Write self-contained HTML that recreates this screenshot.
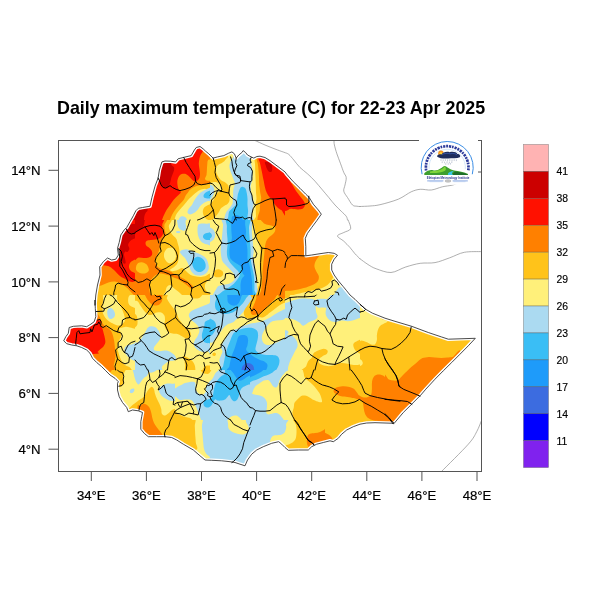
<!DOCTYPE html>
<html><head><meta charset="utf-8"><title>Daily maximum temperature</title>
<style>
html,body{margin:0;padding:0;background:#fff;}
body{width:600px;height:600px;overflow:hidden;font-family:"Liberation Sans",sans-serif;}
svg{display:block;will-change:transform}
text{font-family:"Liberation Sans",sans-serif;fill:#000}
.tl{font-size:13.2px;stroke:#000;stroke-width:0.2px}
.cb{font-size:10.4px;stroke:#000;stroke-width:0.15px}
</style></head><body>
<svg width="600" height="600" viewBox="0 0 600 600">
<rect x="0" y="0" width="600" height="600" fill="#fff"/>

<defs>
<clipPath id="frame"><rect x="58.5" y="140.5" width="423" height="331"/></clipPath>
<clipPath id="country"><path d="M95.0,305.0 L95.8,295.0 L97.5,285.0 L100.0,275.0 L99.7,266.7 L103.3,261.7 L107.5,258.0 L111.7,260.0 L115.8,259.2 L118.3,255.0 L117.5,248.3 L119.2,242.5 L120.8,235.0 L124.2,230.0 L126.7,227.5 L130.0,221.7 L133.3,215.8 L135.8,210.8 L138.3,208.3 L142.5,207.5 L150.0,206.2 L151.9,197.5 L155.0,186.2 L158.1,178.1 L159.4,170.0 L161.9,161.9 L165.0,161.0 L170.6,161.2 L175.6,161.9 L178.1,158.8 L184.4,157.2 L191.2,155.6 L194.4,150.0 L196.2,147.5 L200.0,146.5 L203.1,148.8 L205.6,151.2 L208.8,153.8 L210.0,155.0 L213.1,158.1 L217.5,156.9 L223.8,155.6 L228.8,153.1 L231.9,151.9 L234.4,153.8 L236.2,158.1 L238.8,155.0 L241.9,152.5 L243.1,150.6 L245.6,152.5 L247.5,155.0 L251.2,156.9 L253.8,158.1 L256.9,156.5 L260.0,156.2 L265.0,157.5 L270.0,160.6 L275.0,164.4 L280.0,168.1 L285.0,171.9 L286.7,174.2 L293.3,181.7 L300.0,188.3 L305.8,194.2 L309.2,197.5 L313.3,204.2 L318.3,210.0 L321.3,214.2 L316.7,220.8 L311.7,227.5 L307.5,233.3 L305.3,238.3 L305.8,246.7 L305.8,255.8 L311.7,255.0 L320.0,253.7 L328.3,252.5 L334.2,253.3 L337.5,255.3 L334.2,259.2 L331.7,264.2 L331.7,270.0 L334.2,275.0 L338.3,280.8 L343.3,286.7 L346.7,290.8 L350.0,295.0 L355.0,299.3 L360.0,304.3 L365.7,309.3 L372.5,313.2 L385.0,318.2 L395.0,321.3 L411.7,326.3 L428.3,332.5 L441.7,337.0 L448.3,339.2 L460.0,338.8 L475.3,338.3 L468.3,345.8 L460.0,354.2 L451.7,362.5 L443.3,370.8 L435.0,379.2 L425.8,389.2 L420.8,395.0 L411.7,404.2 L403.3,412.5 L394.2,423.3 L385.0,423.0 L375.0,422.7 L366.7,423.0 L360.0,424.2 L353.3,426.7 L346.7,430.0 L341.7,434.2 L338.3,438.3 L333.3,441.7 L330.0,440.8 L323.3,442.5 L316.7,444.2 L311.7,446.7 L308.3,450.0 L298.3,450.0 L288.3,450.3 L285.0,447.5 L281.7,444.2 L278.7,441.7 L271.7,443.3 L263.3,446.7 L256.7,450.0 L251.7,454.2 L247.5,460.0 L245.0,465.8 L240.0,464.2 L235.0,462.5 L230.0,461.7 L221.7,460.8 L211.7,460.3 L205.0,460.0 L200.0,455.8 L193.3,450.0 L183.3,444.2 L176.7,440.0 L171.7,437.5 L165.0,436.7 L156.7,436.7 L148.3,436.7 L144.2,433.3 L140.8,429.2 L140.8,421.7 L141.7,416.7 L142.5,412.5 L138.3,410.8 L132.5,410.0 L128.3,411.7 L126.7,407.5 L122.5,402.5 L119.2,396.7 L117.5,390.0 L117.5,383.3 L118.3,381.7 L115.0,378.3 L110.0,375.0 L105.8,370.8 L101.7,366.7 L96.7,362.5 L92.5,358.3 L90.0,353.3 L86.7,350.0 L81.7,347.5 L76.7,345.8 L71.7,345.0 L66.7,343.7 L63.7,340.8 L65.8,336.7 L68.3,333.3 L69.2,327.5 L73.3,326.3 L81.7,325.8 L86.7,326.7 L90.8,324.2 L94.2,321.7 L95.8,316.7 L95.3,308.3 L95.0,300.0 Z"/></clipPath>
<clipPath id="c135_145"><rect x="135" y="145" width="75" height="75"/></clipPath>
<clipPath id="c210_145"><rect x="210" y="145" width="75" height="75"/></clipPath>
<clipPath id="c285_145"><rect x="285" y="145" width="75" height="75"/></clipPath>
<clipPath id="c285_220"><rect x="285" y="220" width="75" height="75"/></clipPath>
<clipPath id="c60_220"><rect x="60" y="220" width="75" height="75"/></clipPath>
<clipPath id="c135_220"><rect x="135" y="220" width="75" height="75"/></clipPath>
<clipPath id="c210_220"><rect x="210" y="220" width="75" height="75"/></clipPath>
<clipPath id="c60_295"><rect x="60" y="295" width="75" height="75"/></clipPath>
<clipPath id="c135_295"><rect x="135" y="295" width="75" height="75"/></clipPath>
<clipPath id="c210_295"><rect x="210" y="295" width="75" height="75"/></clipPath>
<clipPath id="c285_295"><rect x="285" y="295" width="75" height="75"/></clipPath>
<clipPath id="c360_295"><rect x="360" y="295" width="75" height="75"/></clipPath>
<clipPath id="c420_310"><rect x="420" y="310" width="75" height="75"/></clipPath>
<clipPath id="c100_370"><rect x="100" y="370" width="75" height="75"/></clipPath>
<clipPath id="c175_370"><rect x="175" y="370" width="75" height="75"/></clipPath>
<clipPath id="c60_145"><rect x="60" y="145" width="75" height="75"/></clipPath>
<clipPath id="c250_370"><rect x="250" y="370" width="75" height="75"/></clipPath>
<clipPath id="c325_370"><rect x="325" y="370" width="75" height="75"/></clipPath>
<clipPath id="c385_350"><rect x="385" y="350" width="75" height="75"/></clipPath>
<clipPath id="c175_420"><rect x="175" y="420" width="75" height="75"/></clipPath>
<clipPath id="c250_420"><rect x="250" y="420" width="75" height="75"/></clipPath>
</defs>
<g clip-path="url(#country)">
<rect x="58" y="140" width="424" height="332" fill="#FFF07A"/>
<g clip-path="url(#c135_145)">
<path d="M174.0,222.5 C181.0,222.1 174.2,221.2 174.5,220.0 C174.8,218.8 175.2,216.7 176.0,215.0 C176.8,213.3 178.2,211.7 179.5,210.0 C180.8,208.3 182.6,206.7 184.0,205.0 C185.4,203.3 186.7,201.5 188.0,200.0 C189.3,198.5 190.5,197.5 191.9,196.2 C193.2,195.0 194.9,193.5 196.2,192.5 C197.6,191.5 198.5,190.6 200.0,190.0 C201.5,189.4 202.9,189.1 205.0,188.8 C207.1,188.4 211.2,195.6 212.5,187.9 C213.8,180.2 225.8,150.1 212.5,142.5 C199.2,134.9 145.8,129.2 132.5,142.5 C119.2,155.8 125.6,209.2 132.5,222.5 C139.4,235.8 167.0,222.9 174.0,222.5 Z" fill="#FFC31A"/>
<path d="M169.5,222.5 C175.8,222.1 169.6,221.2 170.0,220.0 C170.4,218.8 171.2,216.7 172.0,215.0 C172.8,213.3 173.8,211.7 175.0,210.0 C176.2,208.3 177.6,206.7 179.0,205.0 C180.4,203.3 182.3,201.7 183.5,200.0 C184.7,198.3 185.2,196.3 186.0,195.0 C186.8,193.7 187.5,193.1 188.1,192.2 C188.8,191.4 188.9,190.8 189.8,190.0 C190.6,189.2 191.8,188.2 193.1,187.5 C194.4,186.8 195.9,186.2 197.5,185.8 C199.1,185.3 200.9,185.3 202.5,185.0 C204.1,184.7 205.2,184.2 206.9,184.0 C208.5,183.8 211.6,184.0 212.5,183.5 C213.4,183.0 213.4,181.5 212.5,181.0 C211.6,180.5 208.1,181.0 206.9,180.6 C205.6,180.2 205.1,179.7 205.0,178.8 C204.9,177.8 206.2,176.5 206.5,175.0 C206.8,173.5 206.8,171.7 206.9,170.0 C207.0,168.3 207.0,166.7 207.2,165.0 C207.5,163.3 207.2,161.2 208.1,160.0 C209.0,158.8 211.8,160.4 212.5,157.5 C213.2,154.6 225.8,145.0 212.5,142.5 C199.2,140.0 145.8,129.2 132.5,142.5 C119.2,155.8 126.3,209.2 132.5,222.5 C138.7,235.8 163.2,222.9 169.5,222.5 Z" fill="#FF8000"/>
<path d="M161.5,222.5 C166.4,222.1 161.6,221.2 162.0,220.0 C162.4,218.8 163.2,216.7 164.0,215.0 C164.8,213.3 165.5,211.7 166.5,210.0 C167.5,208.3 168.8,206.7 170.0,205.0 C171.2,203.3 172.1,201.7 173.5,200.0 C174.9,198.3 177.3,196.2 178.5,195.0 C179.7,193.8 180.1,193.6 180.5,193.0 C180.9,192.4 180.9,191.9 180.6,191.2 C180.3,190.6 179.3,190.4 178.8,189.4 C178.2,188.3 177.7,186.6 177.5,185.0 C177.3,183.4 177.2,181.5 177.5,180.0 C177.8,178.5 178.3,177.2 179.0,176.2 C179.7,175.2 180.9,174.4 181.9,174.0 C182.9,173.6 184.0,173.5 185.0,173.8 C186.0,174.0 187.2,174.9 188.1,175.6 C189.1,176.4 189.8,177.3 190.6,178.1 C191.5,179.0 192.4,180.1 193.1,180.6 C193.9,181.2 194.3,181.5 195.0,181.5 C195.7,181.5 196.8,181.2 197.5,180.6 C198.2,180.1 199.0,179.3 199.4,178.1 C199.8,177.0 200.0,175.3 200.0,173.8 C200.0,172.2 199.6,170.4 199.4,168.8 C199.2,167.1 198.8,165.4 198.8,163.8 C198.8,162.1 199.1,160.2 199.4,158.8 C199.7,157.3 200.1,156.1 200.6,155.0 C201.1,153.9 201.9,152.9 202.5,151.9 C203.1,150.8 204.1,150.3 204.4,148.8 C204.7,147.2 216.4,143.5 204.4,142.5 C192.4,141.5 144.5,129.2 132.5,142.5 C120.5,155.8 127.7,209.2 132.5,222.5 C137.3,235.8 156.6,222.9 161.5,222.5 Z" fill="#FF1100"/>
<path d="M156.2,181.2 C156.2,177.7 157.6,163.5 160.0,160.0 C162.4,156.5 168.7,159.2 170.6,160.0 C172.5,160.8 170.9,163.8 171.5,165.0 C172.1,166.2 173.6,166.3 174.0,167.2 C174.4,168.2 174.2,169.4 174.0,170.6 C173.8,171.8 173.0,173.1 172.5,174.4 C172.0,175.6 171.6,176.8 171.2,178.1 C170.9,179.5 170.7,181.1 170.2,182.5 C169.8,183.9 169.3,185.3 168.5,186.2 C167.7,187.2 166.5,188.0 165.6,188.1 C164.7,188.3 163.8,187.9 163.1,187.2 C162.4,186.6 162.0,185.3 161.5,184.4 C161.0,183.4 161.2,182.0 160.4,181.5 C159.5,181.0 156.3,184.8 156.2,181.2 Z" fill="#CC0000"/>
<path d="M132.5,213.1 C133.8,211.0 137.6,210.8 140.0,210.0 C142.4,209.2 145.6,208.0 146.9,208.1 C148.1,208.2 147.7,209.8 147.5,210.6 C147.3,211.5 146.1,212.2 145.6,213.1 C145.1,214.1 144.9,214.7 144.4,216.2 C143.9,217.8 144.5,221.5 142.5,222.5 C140.5,223.5 134.2,224.1 132.5,222.5 C130.8,220.9 131.2,215.2 132.5,213.1 Z" fill="#CC0000"/>
<path d="M212.5,188.1 C211.2,186.5 207.1,189.2 205.0,190.0 C202.9,190.8 201.5,191.9 200.0,193.1 C198.5,194.4 197.3,196.1 196.2,197.5 C195.2,198.9 194.5,200.0 193.8,201.2 C193.0,202.5 192.7,203.8 191.9,205.0 C191.0,206.2 189.5,207.5 188.8,208.8 C188.0,210.0 187.3,211.6 187.5,212.5 C187.7,213.4 189.0,214.3 190.0,214.4 C191.0,214.5 192.5,213.9 193.8,213.1 C195.0,212.4 196.5,211.1 197.5,210.0 C198.5,208.9 199.0,207.4 200.0,206.2 C201.0,205.1 202.5,204.0 203.8,203.1 C205.0,202.3 206.0,201.8 207.5,201.2 C209.0,200.7 211.7,202.2 212.5,200.0 C213.3,197.8 213.8,189.8 212.5,188.1 Z" fill="#ABDAF1"/>
<path d="M212.5,190.6 C211.7,189.6 208.9,191.0 207.5,191.5 C206.1,192.0 205.0,193.0 204.4,193.8 C203.7,194.5 203.4,195.5 203.5,196.2 C203.6,197.0 204.2,197.8 205.0,198.1 C205.8,198.5 206.9,198.6 208.1,198.5 C209.4,198.4 211.8,198.8 212.5,197.5 C213.2,196.2 213.3,191.6 212.5,190.6 Z" fill="#3ABEF5"/>
<path d="M212.5,203.5 C212.0,200.8 210.5,204.1 209.5,204.5 C208.5,204.9 207.6,205.2 206.8,205.8 C205.9,206.2 204.9,206.7 204.2,207.5 C203.6,208.3 203.0,209.6 202.9,210.8 C202.7,211.9 202.9,213.1 203.2,214.2 C203.6,215.4 204.3,216.6 205.0,217.5 C205.7,218.4 206.2,219.1 207.5,219.6 C208.8,220.2 211.7,223.4 212.5,220.8 C213.3,218.1 213.0,206.2 212.5,203.5 Z" fill="#FFC31A"/>
<path d="M178.8,222.5 C177.3,221.9 178.6,219.8 179.0,218.8 C179.4,217.8 180.2,216.8 181.2,216.5 C182.2,216.2 184.1,216.4 185.0,216.9 C185.9,217.4 186.5,218.4 186.9,219.4 C187.3,220.3 188.9,222.0 187.5,222.5 C186.1,223.0 180.2,223.1 178.8,222.5 Z" fill="#ABDAF1"/>
</g>
<g clip-path="url(#c210_145)">
<path d="M207.5,155.0 C210.7,150.7 223.9,154.9 226.9,155.6 C229.9,156.4 226.4,158.2 225.6,159.4 C224.9,160.5 223.8,161.6 222.5,162.5 C221.2,163.4 219.2,164.1 218.1,165.0 C217.0,165.9 216.3,166.8 216.0,168.1 C215.7,169.5 216.0,171.6 216.5,173.1 C217.0,174.7 217.9,176.2 218.8,177.5 C219.6,178.8 220.5,179.8 221.5,180.6 C222.5,181.4 224.0,181.6 225.0,182.2 C226.0,182.9 227.1,183.7 227.8,184.8 C228.4,185.8 228.7,187.4 229.0,188.8 C229.3,190.1 229.3,191.5 229.4,193.1 C229.5,194.7 229.6,197.0 229.6,198.4 C229.6,199.8 229.6,200.7 229.2,201.6 C228.9,202.6 228.3,203.4 227.5,204.1 C226.7,204.8 225.4,205.2 224.2,205.9 C223.1,206.6 221.6,207.4 220.8,208.4 C219.9,209.3 219.9,210.5 219.2,211.6 C218.6,212.7 217.7,213.9 216.8,215.0 C215.8,216.1 214.8,217.5 213.8,218.4 C212.8,219.2 211.8,219.5 210.8,220.0 C209.7,220.5 208.0,223.9 207.5,221.5 C207.0,219.1 207.1,208.5 207.5,205.6 C207.9,202.7 209.2,204.8 210.0,204.1 C210.8,203.5 211.8,202.6 212.5,201.6 C213.2,200.7 213.7,199.5 214.2,198.4 C214.8,197.3 215.2,195.9 215.8,195.0 C216.3,194.1 216.8,193.7 217.5,193.1 C218.2,192.5 219.0,192.2 219.8,191.5 C220.5,190.8 221.7,189.8 221.9,188.8 C222.0,187.7 221.4,186.0 220.6,185.0 C219.9,184.0 218.6,183.0 217.5,182.5 C216.4,182.0 215.4,182.1 213.8,181.9 C212.1,181.7 208.5,185.7 207.5,181.2 C206.5,176.8 204.3,159.3 207.5,155.0 Z" fill="#FFC31A"/>
<path d="M207.5,185.6 C208.2,183.0 210.8,184.9 211.9,185.2 C212.9,185.6 213.3,186.6 213.8,187.5 C214.2,188.4 214.4,189.4 214.4,190.6 C214.3,191.9 214.0,193.7 213.5,195.0 C213.0,196.3 212.4,197.4 211.6,198.4 C210.9,199.3 209.8,200.3 209.1,200.8 C208.4,201.2 207.8,203.8 207.5,201.2 C207.2,198.7 206.8,188.3 207.5,185.6 Z" fill="#ABDAF1"/>
<path d="M207.5,191.9 C207.9,190.8 209.5,191.7 210.0,192.2 C210.5,192.8 210.8,194.0 210.8,195.0 C210.8,196.0 210.5,197.5 210.0,198.1 C209.5,198.7 207.9,199.5 207.5,198.5 C207.1,197.5 207.1,192.9 207.5,191.9 Z" fill="#3ABEF5"/>
<path d="M234.4,152.5 C235.3,151.7 237.3,152.9 238.8,152.5 C240.2,152.1 241.6,149.7 243.1,150.0 C244.7,150.3 246.9,152.9 248.1,154.4 C249.4,155.8 250.1,157.2 250.6,158.8 C251.1,160.3 251.0,161.9 251.2,163.8 C251.5,165.6 252.0,167.9 252.2,170.0 C252.5,172.1 252.6,174.4 252.5,176.2 C252.4,178.1 252.2,179.6 251.9,181.2 C251.6,182.9 250.7,184.4 250.6,186.2 C250.5,188.1 250.9,190.6 251.2,192.5 C251.6,194.4 252.1,195.8 252.5,197.5 C252.9,199.2 253.6,200.8 253.8,202.5 C253.9,204.2 253.4,205.6 253.1,207.5 C252.8,209.4 252.2,211.2 251.9,213.8 C251.6,216.2 255.9,221.0 251.2,222.5 C246.6,224.0 228.3,222.9 223.8,222.5 C219.2,222.1 223.9,221.1 224.1,220.0 C224.3,218.9 224.6,217.0 225.0,215.6 C225.4,214.2 225.8,213.0 226.6,211.6 C227.5,210.3 229.0,208.9 230.0,207.5 C231.0,206.1 232.0,204.6 232.5,203.4 C233.0,202.1 232.6,201.4 232.8,200.0 C232.9,198.6 233.2,196.4 233.2,195.0 C233.3,193.6 233.0,193.1 233.1,191.9 C233.2,190.6 233.4,188.9 233.8,187.5 C234.1,186.1 235.0,185.0 235.0,183.8 C235.0,182.5 234.3,181.5 233.8,180.0 C233.2,178.5 232.5,176.7 231.9,175.0 C231.2,173.3 230.4,171.6 230.0,170.0 C229.6,168.4 229.3,167.1 229.4,165.6 C229.5,164.2 230.0,162.6 230.6,161.2 C231.2,159.9 232.5,159.0 233.1,157.5 C233.8,156.0 233.4,153.3 234.4,152.5 Z" fill="#ABDAF1"/>
<path d="M240.6,187.5 C241.4,186.6 242.3,186.7 243.1,186.9 C244.0,187.1 245.0,187.6 245.6,188.8 C246.2,189.9 246.6,192.1 246.9,193.8 C247.2,195.4 247.4,196.9 247.5,198.8 C247.6,200.6 247.4,202.9 247.5,205.0 C247.6,207.1 248.1,209.4 248.1,211.2 C248.1,213.1 247.8,214.4 247.5,216.2 C247.2,218.1 249.6,221.5 246.2,222.5 C242.9,223.5 230.4,222.9 227.2,222.5 C224.1,222.1 227.3,221.1 227.5,220.0 C227.7,218.9 228.1,217.3 228.4,215.9 C228.7,214.5 228.5,213.0 229.2,211.6 C230.0,210.2 232.1,208.6 233.1,207.5 C234.2,206.4 235.0,206.0 235.6,205.0 C236.2,204.0 236.5,202.9 236.9,201.2 C237.2,199.6 237.5,196.5 237.8,195.0 C238.0,193.5 238.0,193.8 238.5,192.5 C239.0,191.2 239.9,188.4 240.6,187.5 Z" fill="#3ABEF5"/>
<path d="M254.4,158.1 C254.5,161.7 254.9,161.8 255.0,163.8 C255.1,165.7 255.2,167.7 255.2,170.0 C255.3,172.3 255.4,175.0 255.5,177.5 C255.6,180.0 255.7,182.5 255.8,185.0 C255.8,187.5 255.9,190.2 256.0,192.5 C256.1,194.8 256.6,196.9 256.5,198.8 C256.4,200.6 255.8,201.9 255.6,203.8 C255.5,205.6 255.7,207.9 255.8,210.0 C255.8,212.1 255.9,214.2 256.0,216.2 C256.1,218.3 251.0,221.5 256.2,222.5 C261.5,223.5 282.3,235.8 287.5,222.5 C292.7,209.2 293.0,155.8 287.5,142.5 C282.0,129.2 259.9,139.9 254.4,142.5 C248.9,145.1 254.3,154.6 254.4,158.1 Z" fill="#FFC31A"/>
<path d="M256.5,157.5 C256.7,161.0 257.4,161.7 257.8,163.8 C258.1,165.8 258.3,167.7 258.5,170.0 C258.7,172.3 258.9,175.0 259.0,177.5 C259.1,180.0 259.0,182.5 259.2,185.0 C259.5,187.5 259.9,190.3 260.2,192.5 C260.6,194.7 261.2,196.2 261.2,198.1 C261.2,200.0 260.5,201.8 260.2,203.8 C260.0,205.7 259.9,206.9 259.8,210.0 C259.6,213.1 254.8,220.4 259.4,222.5 C264.0,224.6 282.8,235.8 287.5,222.5 C292.2,209.2 292.7,155.8 287.5,142.5 C282.3,129.2 261.7,140.0 256.5,142.5 C251.3,145.0 256.3,154.0 256.5,157.5 Z" fill="#FF8000"/>
<path d="M258.1,156.9 C258.4,160.2 259.2,160.5 259.8,162.5 C260.3,164.5 260.8,166.7 261.2,168.8 C261.7,170.8 262.1,172.9 262.5,175.0 C262.9,177.1 263.3,179.2 263.8,181.2 C264.2,183.3 264.5,185.5 265.0,187.5 C265.5,189.5 266.1,191.5 266.9,193.1 C267.7,194.8 268.8,196.5 269.8,197.5 C270.7,198.5 272.0,198.3 272.8,199.4 C273.5,200.4 273.6,202.4 274.4,203.8 C275.2,205.1 276.4,206.5 277.5,207.5 C278.6,208.5 279.6,209.3 281.2,210.0 C282.9,210.7 286.5,222.8 287.5,211.5 C288.5,200.2 292.4,154.0 287.5,142.5 C282.6,131.0 263.0,140.1 258.1,142.5 C253.2,144.9 257.9,153.5 258.1,156.9 Z" fill="#FF1100"/>
<path d="M265.0,161.9 C265.7,161.5 268.9,161.9 270.0,162.5 C271.1,163.1 271.5,164.5 271.9,165.6 C272.2,166.8 272.4,168.3 272.2,169.4 C272.1,170.4 271.8,171.5 271.2,171.9 C270.7,172.2 269.5,172.0 268.8,171.5 C268.0,171.0 267.4,169.8 266.9,168.8 C266.4,167.7 265.9,166.1 265.6,165.0 C265.3,163.9 264.3,162.3 265.0,161.9 Z" fill="#CC0000"/>
<path d="M231.5,222.5 C229.6,222.1 231.5,221.0 231.6,220.0 C231.7,219.0 231.6,217.4 232.1,216.6 C232.7,215.9 233.8,215.5 235.0,215.4 C236.2,215.2 238.0,215.5 239.1,215.9 C240.2,216.2 241.0,216.8 241.6,217.5 C242.2,218.2 242.6,219.2 242.9,220.0 C243.1,220.8 245.0,222.1 243.1,222.5 C241.2,222.9 233.4,222.9 231.5,222.5 Z" fill="#1E9BFA"/>
</g>
<g clip-path="url(#c285_145)">
<path d="M282.5,142.5 L362.5,142.5 L362.5,222.5 L282.5,222.5 Z" fill="#FF8000"/>
<path d="M282.5,170.0 C283.5,165.1 287.1,176.2 288.8,178.8 C290.4,181.2 291.2,182.9 292.5,185.0 C293.8,187.1 295.0,189.4 296.2,191.2 C297.5,193.1 298.8,194.6 300.0,196.2 C301.2,197.9 302.9,199.8 303.8,201.2 C304.6,202.7 305.2,203.8 305.0,205.0 C304.8,206.2 303.8,208.0 302.5,208.8 C301.2,209.5 299.4,209.4 297.5,209.4 C295.6,209.4 293.8,209.0 291.2,208.8 C288.8,208.5 284.0,214.6 282.5,208.1 C281.0,201.7 281.5,174.9 282.5,170.0 Z" fill="#FF1100"/>
</g>
<g clip-path="url(#c285_220)">
<path d="M282.5,217.5 L362.5,217.5 L362.5,297.5 L282.5,297.5 Z" fill="#FF8000"/>
<path d="M321.2,255.0 C323.9,254.5 331.4,254.0 333.8,254.4 C336.1,254.8 336.0,255.7 335.6,257.5 C335.2,259.3 332.1,262.5 331.5,265.0 C330.9,267.5 331.7,270.4 332.2,272.5 C332.8,274.6 330.0,273.3 335.0,277.5 C340.0,281.7 371.2,294.2 362.5,297.5 C353.8,300.8 295.8,298.5 282.5,297.5 C269.2,296.5 280.8,292.6 282.5,291.5 C284.2,290.4 289.0,291.2 292.5,290.6 C296.0,290.1 300.4,289.1 303.8,288.1 C307.1,287.2 310.2,286.1 312.5,285.0 C314.8,283.9 316.7,282.7 317.8,281.2 C318.8,279.8 319.0,277.9 318.8,276.2 C318.5,274.6 317.0,272.9 316.2,271.2 C315.5,269.6 314.5,267.9 314.4,266.2 C314.3,264.6 315.0,262.7 315.6,261.2 C316.2,259.8 317.2,258.5 318.1,257.5 C319.1,256.5 318.6,255.5 321.2,255.0 Z" fill="#FFC31A"/>
<path d="M292.5,297.5 C282.3,296.8 298.3,294.2 301.2,293.1 C304.2,292.1 306.9,292.0 310.0,291.2 C313.1,290.5 317.1,289.8 320.0,288.8 C322.9,287.7 325.6,286.4 327.5,285.0 C329.4,283.6 330.2,282.0 331.2,280.6 C332.3,279.3 332.7,277.0 333.8,276.9 C334.8,276.8 332.7,276.6 337.5,280.0 C342.3,283.4 370.0,294.6 362.5,297.5 C355.0,300.4 302.7,298.2 292.5,297.5 Z" fill="#FFF07A"/>
<path d="M334.4,297.5 C332.1,296.5 335.4,292.9 336.2,291.2 C337.1,289.6 338.2,288.1 339.4,287.5 C340.5,286.9 341.8,286.5 343.1,287.5 C344.5,288.5 346.4,292.1 347.5,293.8 C348.6,295.4 352.2,296.9 350.0,297.5 C347.8,298.1 336.7,298.5 334.4,297.5 Z" fill="#ABDAF1"/>
</g>
<g clip-path="url(#c60_220)">
<path d="M57.5,217.5 L137.5,217.5 L137.5,297.5 L57.5,297.5 Z" fill="#FF1100"/>
<path d="M115.0,230.0 C117.1,225.6 123.8,225.8 127.5,225.0 C131.2,224.2 135.8,223.0 137.5,225.0 C139.2,227.0 138.1,234.6 137.5,236.9 C136.9,239.2 135.0,238.0 133.8,238.8 C132.5,239.5 130.9,240.2 130.0,241.2 C129.1,242.3 128.2,243.8 128.1,245.0 C128.0,246.2 129.5,247.6 129.4,248.8 C129.3,249.9 128.2,251.4 127.5,251.9 C126.8,252.3 125.8,251.1 125.2,251.5 C124.7,251.9 124.0,253.2 124.0,254.4 C124.0,255.6 124.7,257.3 125.0,258.8 C125.3,260.2 125.9,262.4 125.6,263.1 C125.3,263.9 123.9,263.9 123.1,263.1 C122.4,262.4 121.9,260.3 121.2,258.8 C120.6,257.2 120.4,255.0 119.4,253.8 C118.3,252.5 115.7,255.2 115.0,251.2 C114.3,247.3 112.9,234.4 115.0,230.0 Z" fill="#CC0000"/>
<path d="M97.5,266.5 C99.8,261.2 102.9,265.6 105.0,265.6 C107.1,265.7 108.5,266.1 110.0,266.9 C111.5,267.6 112.8,268.9 114.0,270.0 C115.2,271.1 116.3,272.6 117.5,273.8 C118.7,274.9 120.0,276.0 121.2,276.9 C122.5,277.7 123.9,278.1 125.0,278.8 C126.1,279.4 127.0,280.5 128.1,281.0 C129.3,281.5 130.3,281.7 131.9,281.9 C133.4,282.1 136.6,279.6 137.5,282.2 C138.4,284.9 145.2,295.0 137.5,297.5 C129.8,300.0 97.9,302.7 91.2,297.5 C84.6,292.3 95.2,271.8 97.5,266.5 Z" fill="#FF8000"/>
<path d="M137.5,260.0 C136.8,257.9 134.4,260.1 133.1,260.6 C131.9,261.1 130.7,262.1 130.0,263.1 C129.3,264.2 128.9,265.6 129.0,266.9 C129.1,268.1 129.8,269.7 130.6,270.6 C131.4,271.6 132.6,272.1 133.8,272.5 C134.9,272.9 136.9,275.2 137.5,273.1 C138.1,271.0 138.2,262.1 137.5,260.0 Z" fill="#FF8000"/>
<path d="M97.5,287.5 C99.4,285.3 100.7,285.8 102.5,285.0 C104.3,284.2 106.3,283.1 108.4,282.5 C110.5,281.9 112.8,281.4 115.0,281.6 C117.2,281.9 119.7,283.1 121.6,284.1 C123.6,285.1 125.2,286.4 126.6,287.5 C128.0,288.6 128.8,289.6 130.0,290.9 C131.2,292.1 132.5,293.8 133.8,295.0 C135.0,296.2 144.6,297.6 137.5,298.1 C130.4,298.6 97.9,299.9 91.2,298.1 C84.6,296.4 95.6,289.7 97.5,287.5 Z" fill="#FFC31A"/>
</g>
<g clip-path="url(#c135_220)">
<path d="M132.5,217.5 C138.6,204.2 163.3,216.0 169.4,217.5 C175.4,219.0 168.5,223.9 168.8,226.2 C169.0,228.6 169.9,230.3 170.6,231.9 C171.4,233.4 172.2,234.5 173.1,235.6 C174.1,236.8 175.5,237.6 176.2,238.8 C177.0,239.9 177.1,241.1 177.5,242.5 C177.9,243.9 178.4,245.4 178.8,246.9 C179.1,248.3 179.4,249.7 179.4,251.2 C179.4,252.8 179.0,254.6 178.8,256.2 C178.5,257.9 178.5,259.8 178.1,261.2 C177.7,262.7 177.2,263.9 176.2,265.0 C175.3,266.1 173.5,267.3 172.5,268.1 C171.5,269.0 170.0,269.5 170.0,270.0 C170.0,270.5 171.2,271.2 172.5,271.2 C173.8,271.2 175.9,270.5 177.5,270.0 C179.1,269.5 180.6,268.1 181.9,268.1 C183.1,268.1 184.1,269.3 185.0,270.0 C185.9,270.7 186.6,271.7 187.5,272.5 C188.4,273.3 189.4,274.4 190.6,275.0 C191.9,275.6 193.4,275.9 195.0,276.2 C196.6,276.6 198.3,276.9 200.0,276.9 C201.7,276.9 202.9,276.6 205.0,276.2 C207.1,275.9 211.2,271.2 212.5,274.8 C213.8,278.3 225.8,293.7 212.5,297.5 C199.2,301.3 145.8,310.8 132.5,297.5 C119.2,284.2 126.4,230.8 132.5,217.5 Z" fill="#FFC31A"/>
<path d="M165.0,251.2 C165.7,250.2 166.9,248.6 168.1,248.1 C169.4,247.6 171.4,247.6 172.5,248.1 C173.6,248.6 174.4,249.9 175.0,251.2 C175.6,252.6 176.1,254.7 176.0,256.2 C175.9,257.8 175.3,259.5 174.4,260.6 C173.5,261.8 171.9,262.9 170.6,263.1 C169.4,263.3 167.9,262.7 166.9,261.9 C165.8,261.0 164.9,259.4 164.4,258.1 C163.9,256.9 163.9,255.5 164.0,254.4 C164.1,253.2 164.3,252.3 165.0,251.2 Z" fill="#FFF07A"/>
<path d="M164.4,297.5 C161.6,296.5 165.2,293.0 165.6,291.2 C166.0,289.5 166.1,287.9 166.9,286.9 C167.6,285.8 169.1,285.0 170.0,285.0 C170.9,285.0 171.5,286.0 172.5,286.9 C173.5,287.7 175.0,289.0 176.2,290.0 C177.5,291.0 179.0,291.9 180.0,293.1 C181.0,294.4 185.1,296.8 182.5,297.5 C179.9,298.2 167.2,298.5 164.4,297.5 Z" fill="#FFF07A"/>
<path d="M212.5,280.0 C211.7,278.0 208.8,280.4 207.5,281.2 C206.2,282.1 205.3,283.5 205.0,285.0 C204.7,286.5 205.0,288.8 205.6,290.0 C206.2,291.2 207.6,292.0 208.8,292.5 C209.9,293.0 211.9,295.2 212.5,293.1 C213.1,291.0 213.3,282.0 212.5,280.0 Z" fill="#FFF07A"/>
<path d="M165.0,217.5 C170.3,218.8 164.4,222.9 164.4,225.0 C164.3,227.1 164.5,228.5 164.8,230.0 C165.0,231.5 165.7,232.5 165.6,233.8 C165.6,235.0 165.0,236.5 164.4,237.5 C163.8,238.5 162.5,239.1 161.9,240.0 C161.2,240.9 160.9,242.0 160.6,243.1 C160.3,244.3 160.3,245.5 160.0,246.9 C159.7,248.2 159.3,249.8 158.8,251.2 C158.2,252.7 157.5,254.2 156.9,255.6 C156.3,257.1 155.5,258.6 155.2,260.0 C155.0,261.4 155.1,262.5 155.6,263.8 C156.1,265.0 157.1,266.4 158.1,267.2 C159.2,268.1 160.4,268.5 161.9,269.0 C163.3,269.5 165.3,269.5 166.9,270.0 C168.4,270.5 169.9,271.1 171.2,271.9 C172.6,272.6 173.8,273.6 175.0,274.4 C176.2,275.1 177.3,275.5 178.8,276.2 C180.2,277.0 182.3,277.9 183.8,278.8 C185.2,279.6 186.2,280.3 187.5,281.2 C188.8,282.2 190.2,283.3 191.2,284.4 C192.3,285.4 193.6,286.8 193.8,287.5 C193.9,288.2 192.7,288.9 191.9,288.8 C191.0,288.6 189.9,287.7 188.8,286.9 C187.6,286.0 186.2,284.7 185.0,283.8 C183.8,282.8 182.5,282.1 181.2,281.2 C180.0,280.4 179.0,279.5 177.5,278.8 C176.0,278.0 174.2,277.5 172.5,276.9 C170.8,276.2 169.2,275.5 167.5,275.0 C165.8,274.5 164.0,274.0 162.5,273.8 C161.0,273.5 160.0,273.4 158.8,273.8 C157.5,274.1 156.1,274.8 155.0,275.6 C153.9,276.5 152.7,277.6 151.9,278.8 C151.0,279.9 150.4,281.0 150.0,282.5 C149.6,284.0 149.4,285.8 149.4,287.5 C149.3,289.2 149.5,290.8 149.8,292.5 C150.0,294.2 153.5,296.7 150.6,297.5 C147.8,298.3 135.5,310.8 132.5,297.5 C129.5,284.2 127.1,230.8 132.5,217.5 C137.9,204.2 159.7,216.2 165.0,217.5 Z" fill="#FF8000"/>
<path d="M136.2,266.2 C136.6,265.2 137.2,263.8 138.1,263.1 C139.1,262.5 140.6,262.1 141.9,262.2 C143.1,262.4 144.6,263.0 145.6,263.8 C146.7,264.5 147.6,265.7 148.1,266.9 C148.6,268.0 149.1,269.6 148.8,270.6 C148.4,271.7 147.4,272.6 146.2,273.1 C145.1,273.6 143.2,273.7 141.9,273.5 C140.5,273.3 139.1,272.6 138.1,271.9 C137.1,271.2 136.3,270.3 136.0,269.4 C135.7,268.4 135.9,267.3 136.2,266.2 Z" fill="#FFC31A"/>
<path d="M161.9,217.5 C166.8,218.8 162.1,222.9 162.2,225.0 C162.4,227.1 162.6,228.5 162.8,230.0 C162.9,231.5 163.4,232.6 163.1,233.8 C162.9,234.9 162.0,236.0 161.2,236.9 C160.5,237.7 159.7,238.3 158.8,238.8 C157.8,239.2 156.9,239.2 155.6,239.4 C154.4,239.6 152.6,239.8 151.2,240.0 C149.9,240.2 148.4,240.2 147.5,240.6 C146.6,241.0 145.8,241.7 145.6,242.5 C145.4,243.3 145.6,244.7 146.2,245.6 C146.9,246.6 148.4,247.2 149.4,248.1 C150.3,249.1 151.5,250.1 151.9,251.2 C152.3,252.4 152.4,254.0 151.9,255.0 C151.4,256.0 150.1,257.0 148.8,257.5 C147.4,258.0 145.4,258.1 143.8,258.1 C142.1,258.1 140.6,257.6 138.8,257.5 C136.9,257.4 133.5,264.2 132.5,257.5 C131.5,250.8 127.6,224.2 132.5,217.5 C137.4,210.8 156.9,216.2 161.9,217.5 Z" fill="#FF1100"/>
<path d="M132.5,217.5 C134.4,215.0 141.8,216.7 143.8,217.5 C145.7,218.3 144.5,220.9 144.4,222.5 C144.3,224.1 143.9,225.6 143.1,226.9 C142.4,228.1 141.1,229.2 140.0,230.0 C138.9,230.8 137.5,231.5 136.2,231.9 C135.0,232.3 133.1,234.9 132.5,232.5 C131.9,230.1 130.6,220.0 132.5,217.5 Z" fill="#CC0000"/>
<path d="M177.5,217.5 C176.3,218.8 177.5,223.2 177.8,225.0 C178.0,226.8 178.2,227.3 178.8,228.1 C179.3,229.0 180.2,229.6 181.2,230.0 C182.3,230.4 184.2,231.0 185.0,230.6 C185.8,230.2 186.1,228.6 186.2,227.5 C186.4,226.4 185.8,225.4 185.6,223.8 C185.4,222.1 186.4,218.5 185.0,217.5 C183.6,216.5 178.7,216.2 177.5,217.5 Z" fill="#ABDAF1"/>
<path d="M176.2,231.5 C176.6,231.2 178.0,230.9 178.8,231.0 C179.5,231.1 180.6,231.5 180.6,231.9 C180.6,232.2 179.4,233.0 178.8,233.1 C178.1,233.3 176.9,233.0 176.5,232.8 C176.1,232.5 175.9,231.8 176.2,231.5 Z" fill="#ABDAF1"/>
<path d="M198.1,225.0 C198.8,223.9 199.9,223.7 201.2,223.5 C202.6,223.3 204.4,223.5 206.2,223.8 C208.1,224.0 211.5,221.6 212.5,225.0 C213.5,228.4 213.3,241.1 212.5,244.4 C211.7,247.6 209.1,244.6 207.5,244.4 C205.9,244.2 204.4,243.9 203.1,243.1 C201.9,242.4 200.8,241.2 200.0,240.0 C199.2,238.8 198.5,237.3 198.1,235.6 C197.7,234.0 197.5,231.8 197.5,230.0 C197.5,228.2 197.5,226.1 198.1,225.0 Z" fill="#ABDAF1"/>
<path d="M212.5,232.5 C211.6,231.4 208.4,232.7 206.9,233.1 C205.4,233.5 204.1,234.3 203.5,235.0 C202.9,235.7 202.9,236.8 203.1,237.5 C203.4,238.2 204.1,239.0 205.0,239.4 C205.9,239.8 207.5,239.9 208.8,240.0 C210.0,240.1 211.9,241.2 212.5,240.0 C213.1,238.8 213.4,233.6 212.5,232.5 Z" fill="#3ABEF5"/>
<path d="M180.0,251.9 C180.2,251.0 181.9,250.2 183.1,249.8 C184.4,249.3 185.9,249.1 187.5,249.4 C189.1,249.6 190.8,250.6 192.5,251.2 C194.2,251.9 195.8,252.4 197.5,253.1 C199.2,253.9 201.0,254.7 202.5,255.6 C204.0,256.6 205.3,257.5 206.2,258.8 C207.2,260.0 207.7,261.6 208.1,263.1 C208.5,264.7 209.0,266.6 208.8,268.1 C208.5,269.7 207.8,271.4 206.9,272.5 C205.9,273.6 204.5,274.5 203.1,275.0 C201.8,275.5 200.2,275.7 198.8,275.6 C197.3,275.5 195.6,275.1 194.4,274.4 C193.1,273.6 192.1,272.5 191.2,271.2 C190.4,270.0 190.0,268.3 189.4,266.9 C188.8,265.4 188.2,264.0 187.5,262.5 C186.8,261.0 185.9,259.4 185.0,258.1 C184.1,256.9 182.7,256.0 181.9,255.0 C181.0,254.0 179.8,252.8 180.0,251.9 Z" fill="#ABDAF1"/>
<path d="M193.8,258.8 C194.5,257.9 195.7,257.1 196.9,256.9 C198.0,256.7 199.5,257.0 200.6,257.5 C201.8,258.0 202.9,258.9 203.8,260.0 C204.6,261.1 205.4,262.9 205.6,264.4 C205.8,265.8 205.6,267.6 205.0,268.8 C204.4,269.9 203.0,271.0 201.9,271.5 C200.7,272.0 199.3,272.1 198.1,271.9 C197.0,271.6 195.9,270.9 195.0,270.0 C194.1,269.1 193.2,267.6 192.8,266.2 C192.3,264.9 192.1,263.1 192.2,261.9 C192.4,260.6 193.0,259.6 193.8,258.8 Z" fill="#3ABEF5"/>
</g>
<g clip-path="url(#c210_220)">
<path d="M223.8,217.5 C219.1,218.8 223.3,222.7 223.1,225.0 C222.9,227.3 222.7,229.2 222.5,231.2 C222.3,233.3 222.1,235.4 221.9,237.5 C221.7,239.6 221.5,241.7 221.2,243.8 C221.0,245.8 220.6,247.9 220.6,250.0 C220.6,252.1 220.9,254.4 221.2,256.2 C221.6,258.1 221.8,259.8 222.5,261.2 C223.2,262.7 224.4,263.6 225.6,265.0 C226.9,266.4 228.6,267.9 230.0,269.4 C231.4,270.8 232.9,272.4 233.8,273.8 C234.6,275.1 235.1,276.2 235.0,277.5 C234.9,278.8 234.2,280.2 233.1,281.2 C232.1,282.3 230.5,283.1 228.8,283.8 C227.0,284.4 224.3,284.6 222.5,285.0 C220.7,285.4 219.3,285.4 218.1,286.2 C217.0,287.1 216.5,288.5 215.6,290.0 C214.7,291.5 213.4,293.8 212.8,295.0 C212.1,296.2 204.6,297.1 211.9,297.5 C219.1,297.9 248.8,299.4 256.2,297.5 C263.8,295.6 256.9,289.2 256.9,286.2 C256.9,283.3 256.5,282.1 256.2,280.0 C256.0,277.9 255.8,275.8 255.6,273.8 C255.4,271.7 255.3,269.6 255.0,267.5 C254.7,265.4 254.1,263.1 253.8,261.2 C253.4,259.4 253.1,257.9 253.1,256.2 C253.1,254.6 253.8,253.1 253.8,251.2 C253.8,249.4 253.3,247.1 253.1,245.0 C252.9,242.9 252.7,240.8 252.5,238.8 C252.3,236.7 252.0,234.6 251.9,232.5 C251.8,230.4 252.0,228.8 251.9,226.2 C251.8,223.8 255.9,219.0 251.2,217.5 C246.6,216.0 228.4,216.2 223.8,217.5 Z" fill="#ABDAF1"/>
<path d="M207.5,227.5 C208.1,225.2 210.1,227.5 211.2,228.1 C212.4,228.8 213.8,229.9 214.4,231.2 C215.0,232.6 215.3,234.7 215.0,236.2 C214.7,237.8 213.8,239.7 212.5,240.6 C211.2,241.6 208.3,244.1 207.5,241.9 C206.7,239.7 206.9,229.8 207.5,227.5 Z" fill="#ABDAF1"/>
<path d="M207.5,232.5 C208.0,231.6 209.9,232.6 210.6,233.1 C211.4,233.6 211.9,234.8 211.9,235.6 C211.9,236.5 211.4,237.6 210.6,238.1 C209.9,238.6 208.0,239.7 207.5,238.8 C207.0,237.8 207.0,233.4 207.5,232.5 Z" fill="#3ABEF5"/>
<path d="M227.5,217.5 C223.9,219.0 227.0,223.8 226.9,226.2 C226.8,228.8 226.8,230.4 226.9,232.5 C227.0,234.6 227.4,236.7 227.5,238.8 C227.6,240.8 227.6,242.9 227.5,245.0 C227.4,247.1 226.9,249.2 226.9,251.2 C226.9,253.3 227.0,255.6 227.5,257.5 C228.0,259.4 228.9,260.8 230.0,262.5 C231.1,264.2 233.0,266.0 234.4,267.5 C235.7,269.0 237.2,270.0 238.1,271.2 C239.0,272.5 239.8,273.8 239.8,275.0 C239.7,276.2 238.8,277.3 237.8,278.8 C236.8,280.2 235.2,282.3 233.8,283.8 C232.2,285.2 230.2,286.5 228.8,287.5 C227.3,288.5 226.2,289.2 225.0,290.0 C223.8,290.8 222.3,291.2 221.2,292.5 C220.2,293.8 213.3,296.7 218.8,297.5 C224.2,298.3 247.8,298.8 253.8,297.5 C259.7,296.2 254.3,292.5 254.4,290.0 C254.5,287.5 254.5,285.0 254.4,282.5 C254.3,280.0 254.1,277.3 253.8,275.0 C253.4,272.7 252.9,270.8 252.5,268.8 C252.1,266.7 251.6,264.6 251.2,262.5 C250.9,260.4 250.7,258.3 250.6,256.2 C250.5,254.2 250.7,252.3 250.6,250.0 C250.5,247.7 250.2,245.0 250.0,242.5 C249.8,240.0 249.5,237.5 249.4,235.0 C249.2,232.5 249.1,230.4 249.0,227.5 C248.9,224.6 252.3,219.2 248.8,217.5 C245.2,215.8 231.1,216.0 227.5,217.5 Z" fill="#3ABEF5"/>
<path d="M231.9,217.5 C229.8,219.0 231.3,223.8 231.2,226.2 C231.2,228.8 231.4,230.4 231.5,232.5 C231.6,234.6 232.1,236.7 231.9,238.8 C231.6,240.8 230.4,242.9 230.0,245.0 C229.6,247.1 229.4,249.2 229.4,251.2 C229.4,253.3 229.4,255.8 230.0,257.5 C230.6,259.2 232.0,260.2 233.1,261.2 C234.3,262.3 235.6,262.9 236.9,263.8 C238.1,264.6 239.8,265.2 240.6,266.2 C241.5,267.3 241.5,268.8 241.9,270.0 C242.2,271.2 242.3,272.8 242.8,273.8 C243.2,274.7 244.5,274.8 244.4,275.6 C244.2,276.5 242.5,277.4 241.9,278.8 C241.2,280.1 240.8,282.1 240.6,283.8 C240.4,285.4 240.5,286.5 240.6,288.8 C240.7,291.0 239.4,296.0 241.2,297.5 C243.1,299.0 250.0,299.2 251.9,297.5 C253.7,295.8 252.2,290.4 252.2,287.5 C252.2,284.6 252.1,282.3 251.9,280.0 C251.7,277.7 251.3,275.8 251.0,273.8 C250.7,271.7 250.4,269.4 250.0,267.5 C249.6,265.6 249.2,264.0 248.8,262.5 C248.3,261.0 247.7,260.2 247.5,258.8 C247.3,257.3 247.5,255.6 247.5,253.8 C247.5,251.9 247.5,249.6 247.2,247.5 C247.0,245.4 246.5,243.1 246.2,241.2 C246.0,239.4 245.7,237.9 245.6,236.2 C245.6,234.6 246.1,233.1 246.0,231.2 C245.9,229.4 245.6,227.3 245.2,225.0 C244.9,222.7 246.0,218.8 243.8,217.5 C241.5,216.2 234.0,216.0 231.9,217.5 Z" fill="#1E9BFA"/>
<path d="M253.1,217.5 C247.6,219.0 254.0,223.8 254.4,226.2 C254.8,228.8 255.1,230.4 255.6,232.5 C256.1,234.6 256.6,236.7 257.2,238.8 C257.9,240.8 258.8,242.9 259.4,245.0 C259.9,247.1 260.5,249.2 260.6,251.2 C260.7,253.3 260.1,255.4 260.0,257.5 C259.9,259.6 259.8,261.7 259.8,263.8 C259.8,265.8 259.9,267.9 260.0,270.0 C260.1,272.1 260.6,274.2 260.6,276.2 C260.6,278.3 260.4,280.6 260.0,282.5 C259.6,284.4 258.5,286.0 258.1,287.5 C257.7,289.0 257.5,289.6 257.5,291.2 C257.5,292.9 253.1,296.5 258.1,297.5 C263.1,298.5 282.6,310.8 287.5,297.5 C292.4,284.2 293.2,230.8 287.5,217.5 C281.8,204.2 258.6,216.0 253.1,217.5 Z" fill="#FFC31A"/>
<path d="M261.9,217.5 C257.8,218.3 262.4,221.4 263.1,222.5 C263.9,223.6 264.9,223.9 266.2,224.4 C267.6,224.9 269.8,225.1 271.2,225.6 C272.7,226.1 274.4,226.6 275.0,227.5 C275.6,228.4 275.4,230.1 275.0,231.2 C274.6,232.4 273.5,233.3 272.5,234.4 C271.5,235.4 269.8,236.4 268.8,237.5 C267.7,238.6 266.9,239.8 266.2,241.2 C265.6,242.7 265.3,244.4 265.0,246.2 C264.7,248.1 264.6,250.4 264.4,252.5 C264.2,254.6 264.0,256.7 263.8,258.8 C263.5,260.8 263.3,262.9 263.1,265.0 C262.9,267.1 262.6,269.2 262.5,271.2 C262.4,273.3 262.6,275.4 262.5,277.5 C262.4,279.6 262.1,281.7 261.9,283.8 C261.7,285.8 261.4,287.7 261.2,290.0 C261.1,292.3 256.9,296.2 261.2,297.5 C265.6,298.8 283.1,310.8 287.5,297.5 C291.9,284.2 291.8,230.8 287.5,217.5 C283.2,204.2 265.9,216.7 261.9,217.5 Z" fill="#FF8000"/>
<path d="M213.8,272.5 C214.1,271.6 214.7,270.5 215.6,270.0 C216.6,269.5 218.2,269.2 219.4,269.4 C220.5,269.6 221.9,270.4 222.5,271.2 C223.1,272.1 223.4,273.4 223.1,274.4 C222.8,275.3 221.8,276.4 220.6,276.9 C219.5,277.4 217.4,277.5 216.2,277.2 C215.1,277.0 214.2,276.4 213.8,275.6 C213.3,274.8 213.4,273.4 213.8,272.5 Z" fill="#FFC31A"/>
</g>
<g clip-path="url(#c60_295)">
<path d="M57.5,292.5 L137.5,292.5 L137.5,372.5 L57.5,372.5 Z" fill="#FFC31A"/>
<path d="M104.4,292.5 C102.2,293.8 103.4,297.5 103.1,300.0 C102.8,302.5 102.5,305.2 102.5,307.5 C102.5,309.8 102.5,311.9 103.1,313.8 C103.8,315.6 105.1,317.4 106.2,318.8 C107.4,320.1 108.5,320.9 110.0,321.9 C111.5,322.8 113.5,323.8 115.0,324.4 C116.5,325.0 117.5,325.7 118.8,325.6 C120.0,325.5 121.5,324.7 122.5,323.8 C123.5,322.8 124.8,321.7 125.0,320.0 C125.2,318.3 124.4,315.8 123.8,313.8 C123.1,311.7 122.1,309.4 121.2,307.5 C120.4,305.6 119.5,304.0 118.8,302.5 C118.0,301.0 117.3,300.4 116.9,298.8 C116.5,297.1 118.3,293.5 116.2,292.5 C114.2,291.5 106.6,291.2 104.4,292.5 Z" fill="#FFF07A"/>
<path d="M137.5,292.5 C136.2,290.4 131.6,293.8 130.0,295.0 C128.4,296.2 128.2,298.3 128.1,300.0 C128.0,301.7 128.4,303.8 129.4,305.0 C130.3,306.2 132.4,307.1 133.8,307.5 C135.1,307.9 136.9,310.0 137.5,307.5 C138.1,305.0 138.8,294.6 137.5,292.5 Z" fill="#FFF07A"/>
<path d="M118.8,328.8 C119.5,327.9 123.1,327.1 125.0,326.9 C126.9,326.7 128.3,327.2 130.0,327.5 C131.7,327.8 133.8,328.5 135.0,328.8 C136.2,329.0 137.1,321.5 137.5,328.8 C137.9,336.0 138.1,365.2 137.5,372.5 C136.9,379.8 135.0,373.3 133.8,372.5 C132.5,371.7 131.5,368.8 130.0,367.5 C128.5,366.2 126.5,366.2 125.0,365.0 C123.5,363.8 122.3,361.9 121.2,360.0 C120.2,358.1 119.4,355.8 118.8,353.8 C118.1,351.7 117.5,349.6 117.5,347.5 C117.5,345.4 118.1,343.1 118.8,341.2 C119.4,339.4 120.9,337.8 121.2,336.2 C121.6,334.7 121.0,333.1 120.6,331.9 C120.2,330.6 118.0,329.6 118.8,328.8 Z" fill="#FFF07A"/>
<path d="M108.1,308.8 C108.8,308.0 110.3,307.8 111.2,308.1 C112.2,308.4 113.1,309.6 113.8,310.6 C114.4,311.7 115.0,313.2 115.0,314.4 C115.0,315.5 114.5,316.7 113.8,317.5 C113.0,318.3 111.6,319.1 110.6,319.0 C109.7,318.9 108.7,318.0 108.1,316.9 C107.6,315.8 107.2,313.9 107.2,312.5 C107.2,311.1 107.5,309.5 108.1,308.8 Z" fill="#ABDAF1"/>
<path d="M124.4,348.8 C124.6,347.4 125.7,346.4 126.9,345.6 C128.0,344.9 129.5,344.6 131.2,344.4 C133.0,344.2 136.5,341.8 137.5,344.4 C138.5,347.0 138.3,357.4 137.5,360.0 C136.7,362.6 134.0,360.4 132.5,360.0 C131.0,359.6 129.9,358.5 128.8,357.5 C127.6,356.5 126.4,355.2 125.6,353.8 C124.9,352.3 124.2,350.1 124.4,348.8 Z" fill="#ABDAF1"/>
<path d="M95.0,312.5 C97.1,312.7 96.7,312.9 97.5,313.8 C98.3,314.6 99.3,316.1 100.0,317.5 C100.7,318.9 101.1,320.5 101.9,321.9 C102.6,323.2 103.3,324.6 104.4,325.6 C105.4,326.7 107.0,327.2 108.1,328.1 C109.3,329.1 110.4,329.9 111.2,331.2 C112.1,332.6 112.6,334.4 113.1,336.2 C113.6,338.1 114.1,340.4 114.4,342.5 C114.7,344.6 114.8,346.7 115.0,348.8 C115.2,350.8 115.6,353.1 115.6,355.0 C115.6,356.9 115.3,358.3 115.0,360.0 C114.7,361.7 114.2,362.9 113.8,365.0 C113.3,367.1 117.3,371.2 112.5,372.5 C107.7,373.8 89.6,382.5 85.0,372.5 C80.4,362.5 83.3,322.5 85.0,312.5 C86.7,302.5 92.9,312.3 95.0,312.5 Z" fill="#FF8000"/>
<path d="M57.5,320.0 C64.2,314.4 90.4,319.3 97.5,320.0 C104.6,320.7 99.2,322.9 100.0,324.4 C100.8,325.8 101.9,327.2 102.5,328.8 C103.1,330.3 103.3,332.1 103.8,333.8 C104.2,335.4 104.8,337.2 105.0,338.8 C105.2,340.3 105.6,341.8 105.2,343.1 C104.9,344.5 104.0,345.8 103.1,346.9 C102.2,347.9 100.9,348.5 100.0,349.4 C99.1,350.2 98.2,351.1 97.5,351.9 C96.8,352.6 102.3,353.4 95.6,353.8 C89.0,354.1 63.9,359.4 57.5,353.8 C51.1,348.1 50.8,325.6 57.5,320.0 Z" fill="#FF1100"/>
</g>
<g clip-path="url(#c135_295)">
<path d="M132.5,292.5 C137.9,291.2 159.3,291.5 165.0,292.5 C170.7,293.5 166.0,296.9 166.9,298.8 C167.7,300.6 168.9,302.1 170.0,303.8 C171.1,305.4 172.6,307.1 173.8,308.8 C174.9,310.4 176.0,312.1 176.9,313.8 C177.7,315.4 177.8,317.1 178.8,318.8 C179.7,320.4 181.2,322.3 182.5,323.8 C183.8,325.2 185.0,326.2 186.2,327.5 C187.5,328.8 189.3,329.8 190.0,331.2 C190.7,332.7 191.0,335.0 190.6,336.2 C190.2,337.5 188.8,338.6 187.5,338.8 C186.2,338.9 184.6,337.6 183.1,336.9 C181.7,336.1 180.3,334.9 178.8,334.4 C177.2,333.9 175.3,334.1 173.8,333.8 C172.2,333.4 170.6,333.2 169.4,332.5 C168.1,331.8 167.1,330.6 166.2,329.4 C165.4,328.1 164.6,326.6 164.4,325.0 C164.2,323.4 165.0,321.6 165.0,320.0 C165.0,318.4 165.0,316.9 164.4,315.6 C163.8,314.4 162.5,313.0 161.2,312.5 C160.0,312.0 158.3,312.2 156.9,312.5 C155.4,312.8 153.9,314.0 152.5,314.4 C151.1,314.8 149.9,315.3 148.8,315.0 C147.6,314.7 146.7,313.5 145.6,312.5 C144.6,311.5 143.4,310.0 142.5,308.8 C141.6,307.5 140.8,306.2 140.0,305.0 C139.2,303.8 138.8,302.1 137.5,301.2 C136.2,300.4 133.3,301.5 132.5,300.0 C131.7,298.5 127.1,293.8 132.5,292.5 Z" fill="#FFC31A"/>
<path d="M132.5,313.8 C133.1,311.7 135.4,314.0 136.2,315.0 C137.1,316.0 137.4,318.2 137.5,320.0 C137.6,321.8 137.7,324.4 136.9,325.6 C136.0,326.9 133.2,329.5 132.5,327.5 C131.8,325.5 131.9,315.8 132.5,313.8 Z" fill="#FFC31A"/>
<path d="M190.0,292.5 C188.1,293.2 190.3,295.9 191.2,296.9 C192.2,297.9 194.2,298.4 195.6,298.5 C197.1,298.6 198.9,298.5 200.0,297.5 C201.1,296.5 204.2,293.3 202.5,292.5 C200.8,291.7 191.9,291.8 190.0,292.5 Z" fill="#FFC31A"/>
<path d="M183.1,356.2 C183.6,355.8 185.9,356.7 187.5,357.5 C189.1,358.3 191.2,359.8 192.5,361.2 C193.8,362.7 194.7,364.4 195.0,366.2 C195.3,368.1 195.9,371.5 194.4,372.5 C192.8,373.5 187.2,373.8 185.6,372.5 C184.1,371.2 185.2,367.1 185.0,365.0 C184.8,362.9 184.7,361.5 184.4,360.0 C184.1,358.5 182.6,356.7 183.1,356.2 Z" fill="#FFC31A"/>
<path d="M202.5,372.5 C201.1,371.6 203.4,368.0 204.4,366.9 C205.3,365.7 206.8,365.7 208.1,365.6 C209.5,365.5 211.8,365.1 212.5,366.2 C213.2,367.4 214.2,371.5 212.5,372.5 C210.8,373.5 203.9,373.4 202.5,372.5 Z" fill="#FFC31A"/>
<path d="M145.6,292.5 C143.1,293.3 145.7,296.0 146.2,297.5 C146.8,299.0 147.8,300.1 148.8,301.2 C149.7,302.4 150.7,303.6 151.9,304.4 C153.0,305.1 154.4,305.6 155.6,305.6 C156.9,305.6 158.3,305.1 159.4,304.4 C160.4,303.6 161.4,302.4 161.9,301.2 C162.4,300.1 162.4,299.0 162.2,297.5 C162.1,296.0 164.0,293.3 161.2,292.5 C158.5,291.7 148.1,291.7 145.6,292.5 Z" fill="#FF8000"/>
<path d="M147.5,328.1 C148.5,326.9 149.4,326.5 150.6,326.2 C151.9,326.0 153.8,326.2 155.0,326.9 C156.2,327.5 157.3,328.9 158.1,330.0 C159.0,331.1 159.6,332.4 160.0,333.8 C160.4,335.1 160.9,336.8 160.6,338.1 C160.3,339.5 159.0,340.7 158.1,341.9 C157.3,343.0 156.4,344.0 155.6,345.0 C154.9,346.0 153.9,347.2 153.8,348.1 C153.6,349.1 154.0,350.1 155.0,350.6 C156.0,351.1 158.1,351.2 160.0,351.2 C161.9,351.2 164.4,350.4 166.2,350.6 C168.1,350.8 169.9,351.8 171.2,352.5 C172.6,353.2 173.5,354.0 174.4,355.0 C175.2,356.0 176.4,357.8 176.2,358.8 C176.1,359.7 175.0,360.2 173.8,360.6 C172.5,361.0 170.2,360.7 168.8,361.2 C167.3,361.8 166.1,362.8 165.0,363.8 C163.9,364.7 162.7,365.4 161.9,366.9 C161.0,368.3 164.9,371.6 160.0,372.5 C155.1,373.4 137.1,377.1 132.5,372.5 C127.9,367.9 131.7,350.0 132.5,345.0 C133.3,340.0 136.0,343.5 137.5,342.5 C139.0,341.5 140.1,340.2 141.2,338.8 C142.4,337.3 143.3,335.5 144.4,333.8 C145.4,332.0 146.5,329.4 147.5,328.1 Z" fill="#ABDAF1"/>
<path d="M188.8,315.0 C188.9,313.6 190.0,312.3 191.2,311.2 C192.5,310.2 194.4,309.6 196.2,308.8 C198.1,307.9 200.4,307.1 202.5,306.2 C204.6,305.4 207.1,304.4 208.8,303.8 C210.4,303.1 211.9,294.8 212.5,302.5 C213.1,310.2 213.3,341.9 212.5,350.0 C211.7,358.1 209.1,350.9 207.5,351.2 C205.9,351.6 204.6,352.0 203.1,351.9 C201.7,351.8 200.0,351.2 198.8,350.6 C197.5,350.0 196.5,349.2 195.6,348.1 C194.8,347.1 193.9,345.7 193.8,344.4 C193.6,343.0 194.4,341.4 195.0,340.0 C195.6,338.6 196.8,337.7 197.5,336.2 C198.2,334.8 199.3,332.9 199.4,331.2 C199.5,329.6 199.0,327.7 198.1,326.2 C197.3,324.8 195.6,323.6 194.4,322.5 C193.1,321.4 191.6,320.6 190.6,319.4 C189.7,318.1 188.6,316.4 188.8,315.0 Z" fill="#ABDAF1"/>
<path d="M205.0,321.9 C205.7,320.9 207.5,320.4 208.8,320.0 C210.0,319.6 211.9,315.7 212.5,319.4 C213.1,323.0 213.1,337.9 212.5,341.9 C211.9,345.8 210.0,343.0 208.8,343.1 C207.5,343.2 206.0,343.1 205.0,342.5 C204.0,341.9 203.0,340.6 202.5,339.4 C202.0,338.1 201.8,336.6 201.9,335.0 C202.0,333.4 202.7,331.6 203.1,330.0 C203.5,328.4 204.1,327.0 204.4,325.6 C204.7,324.3 204.3,322.8 205.0,321.9 Z" fill="#3ABEF5"/>
</g>
<g clip-path="url(#c210_295)">
<path d="M207.5,292.5 L287.5,292.5 L287.5,372.5 L207.5,372.5 Z" fill="#ABDAF1"/>
<path d="M207.5,345.0 C208.3,340.0 211.0,343.8 212.5,342.5 C214.0,341.2 215.0,339.2 216.2,337.5 C217.5,335.8 218.8,334.2 220.0,332.5 C221.2,330.8 222.5,328.9 223.8,327.5 C225.0,326.1 226.0,325.2 227.5,324.4 C229.0,323.5 231.0,323.3 232.5,322.5 C234.0,321.7 235.0,320.5 236.2,319.4 C237.5,318.2 238.8,317.0 240.0,315.6 C241.2,314.3 242.5,312.7 243.8,311.2 C245.0,309.8 246.5,308.3 247.5,306.9 C248.5,305.4 249.2,304.1 250.0,302.5 C250.8,300.9 251.9,299.2 252.5,297.5 C253.1,295.8 247.9,293.3 253.8,292.5 C259.6,291.7 281.9,290.0 287.5,292.5 C293.1,295.0 288.1,304.7 287.5,307.5 C286.9,310.3 285.2,308.6 283.8,309.4 C282.3,310.1 280.4,310.9 278.8,311.9 C277.1,312.8 275.2,314.1 273.8,315.0 C272.3,315.9 271.5,316.7 270.0,317.5 C268.5,318.3 266.7,319.3 265.0,320.0 C263.3,320.7 261.9,321.4 260.0,321.9 C258.1,322.4 255.8,322.7 253.8,323.1 C251.7,323.5 249.4,323.9 247.5,324.4 C245.6,324.9 244.2,325.5 242.5,326.2 C240.8,327.0 239.2,328.0 237.5,328.8 C235.8,329.5 234.0,329.8 232.5,330.6 C231.0,331.5 229.8,332.6 228.8,333.8 C227.7,334.9 227.2,336.0 226.2,337.5 C225.3,339.0 224.0,340.8 223.1,342.5 C222.3,344.2 221.4,346.0 221.2,347.5 C221.1,349.0 222.5,350.0 222.5,351.2 C222.5,352.5 221.8,353.5 221.2,355.0 C220.7,356.5 219.6,358.3 219.4,360.0 C219.2,361.7 219.7,362.9 220.0,365.0 C220.3,367.1 223.3,371.2 221.2,372.5 C219.2,373.8 209.8,377.1 207.5,372.5 C205.2,367.9 206.7,350.0 207.5,345.0 Z" fill="#FFF07A"/>
<path d="M287.5,319.4 C286.7,316.5 284.4,319.8 282.5,320.0 C280.6,320.2 278.1,320.3 276.2,320.6 C274.4,320.9 272.8,320.9 271.2,321.9 C269.7,322.8 268.1,324.7 266.9,326.2 C265.6,327.8 264.6,329.6 263.8,331.2 C262.9,332.9 262.1,334.6 261.9,336.2 C261.7,337.9 261.9,339.9 262.5,341.2 C263.1,342.6 264.4,343.8 265.6,344.4 C266.9,345.0 268.4,345.2 270.0,345.0 C271.6,344.8 273.4,343.8 275.0,343.1 C276.6,342.5 277.9,342.0 279.4,341.2 C280.8,340.5 282.4,339.4 283.8,338.8 C285.1,338.1 286.9,340.7 287.5,337.5 C288.1,334.3 288.3,322.3 287.5,319.4 Z" fill="#FFF07A"/>
<path d="M253.1,292.5 C247.2,293.5 252.6,296.9 251.9,298.8 C251.1,300.6 249.8,302.2 248.8,303.8 C247.7,305.3 246.5,306.7 245.6,308.1 C244.8,309.6 243.9,311.0 243.8,312.5 C243.6,314.0 244.2,315.8 245.0,316.9 C245.8,317.9 247.4,318.5 248.8,318.8 C250.1,319.0 251.6,318.4 253.1,318.1 C254.7,317.8 256.6,317.0 258.1,316.9 C259.7,316.8 261.1,317.7 262.5,317.5 C263.9,317.3 265.0,316.5 266.2,315.6 C267.5,314.8 268.5,313.6 270.0,312.5 C271.5,311.4 273.3,310.0 275.0,308.8 C276.7,307.5 278.3,306.0 280.0,305.0 C281.7,304.0 283.8,303.1 285.0,302.5 C286.2,301.9 287.1,302.9 287.5,301.2 C287.9,299.6 293.2,294.0 287.5,292.5 C281.8,291.0 259.1,291.5 253.1,292.5 Z" fill="#FFC31A"/>
<path d="M258.1,292.5 C254.6,293.5 256.9,296.9 256.2,298.8 C255.6,300.6 255.0,302.3 254.4,303.8 C253.8,305.2 253.1,306.2 252.5,307.5 C251.9,308.8 250.7,310.1 250.6,311.2 C250.5,312.4 251.0,313.8 251.9,314.4 C252.7,315.0 254.4,314.9 255.6,314.8 C256.9,314.6 258.2,314.3 259.4,313.8 C260.5,313.2 261.4,312.3 262.5,311.2 C263.6,310.2 265.0,308.8 266.2,307.5 C267.5,306.2 268.8,305.0 270.0,303.8 C271.2,302.5 272.7,301.2 273.8,300.0 C274.8,298.8 275.6,297.5 276.2,296.2 C276.9,295.0 280.5,293.1 277.5,292.5 C274.5,291.9 261.7,291.5 258.1,292.5 Z" fill="#FF8000"/>
<path d="M278.1,292.5 C276.8,293.3 278.6,296.5 279.4,297.5 C280.1,298.5 281.1,298.8 282.5,298.8 C283.9,298.8 286.7,298.5 287.5,297.5 C288.3,296.5 289.1,293.3 287.5,292.5 C285.9,291.7 279.5,291.7 278.1,292.5 Z" fill="#FF8000"/>
<path d="M212.5,353.8 C212.8,353.2 213.8,352.5 214.4,352.5 C215.0,352.5 215.9,353.4 216.0,354.0 C216.1,354.6 215.3,355.7 214.8,356.0 C214.2,356.3 213.1,356.0 212.8,355.6 C212.4,355.2 212.2,354.3 212.5,353.8 Z" fill="#FFC31A"/>
<path d="M217.5,292.5 C212.3,293.5 216.7,296.9 216.2,298.8 C215.8,300.6 215.1,302.1 215.0,303.8 C214.9,305.4 215.0,307.4 215.6,308.8 C216.2,310.1 217.6,311.0 218.8,311.9 C219.9,312.7 221.0,313.4 222.5,313.8 C224.0,314.1 225.8,314.0 227.5,313.8 C229.2,313.5 231.0,313.1 232.5,312.5 C234.0,311.9 235.2,310.8 236.2,310.0 C237.3,309.2 237.9,308.3 238.8,307.5 C239.6,306.7 240.4,305.9 241.2,305.0 C242.1,304.1 242.9,303.0 243.8,301.9 C244.6,300.7 245.6,299.7 246.2,298.1 C246.9,296.6 252.3,293.4 247.5,292.5 C242.7,291.6 222.7,291.5 217.5,292.5 Z" fill="#3ABEF5"/>
<path d="M228.8,292.5 C226.4,293.5 227.6,297.1 227.5,298.8 C227.4,300.4 227.5,301.5 228.1,302.5 C228.8,303.5 230.1,304.5 231.2,305.0 C232.4,305.5 233.9,305.8 235.0,305.6 C236.1,305.4 237.3,304.6 238.1,303.8 C239.0,302.9 239.5,301.8 240.0,300.6 C240.5,299.5 240.9,298.2 241.2,296.9 C241.6,295.5 244.0,293.2 241.9,292.5 C239.8,291.8 231.1,291.5 228.8,292.5 Z" fill="#1E9BFA"/>
<path d="M207.5,319.4 C208.2,316.6 210.6,319.0 211.9,319.4 C213.1,319.8 214.3,320.7 215.0,321.9 C215.7,323.0 216.2,324.8 216.2,326.2 C216.2,327.7 215.6,329.3 215.0,330.6 C214.4,332.0 213.8,333.4 212.5,334.4 C211.2,335.3 208.3,338.8 207.5,336.2 C206.7,333.8 206.8,322.2 207.5,319.4 Z" fill="#3ABEF5"/>
<path d="M234.4,332.5 C235.7,331.4 238.0,330.1 240.0,329.4 C242.0,328.6 244.2,328.3 246.2,328.1 C248.3,327.9 250.7,327.7 252.5,328.1 C254.3,328.5 255.9,329.5 256.9,330.6 C257.8,331.8 258.0,333.4 258.1,335.0 C258.2,336.6 257.8,338.3 257.5,340.0 C257.2,341.7 256.6,343.3 256.2,345.0 C255.9,346.7 255.0,348.5 255.6,350.0 C256.2,351.5 258.2,352.9 260.0,353.8 C261.8,354.6 264.2,354.8 266.2,355.0 C268.3,355.2 270.6,354.8 272.5,355.0 C274.4,355.2 276.4,355.4 277.5,356.2 C278.6,357.1 279.2,358.5 279.4,360.0 C279.6,361.5 279.3,363.3 278.8,365.0 C278.2,366.7 276.9,368.8 276.2,370.0 C275.6,371.2 284.0,372.1 275.0,372.5 C266.0,372.9 231.1,373.5 222.5,372.5 C213.9,371.5 222.8,368.3 223.1,366.2 C223.4,364.2 224.0,362.1 224.4,360.0 C224.8,357.9 225.1,355.8 225.6,353.8 C226.1,351.7 226.8,349.6 227.5,347.5 C228.2,345.4 229.3,343.1 230.0,341.2 C230.7,339.4 231.1,337.7 231.9,336.2 C232.6,334.8 233.0,333.6 234.4,332.5 Z" fill="#3ABEF5"/>
<path d="M238.8,336.2 C239.8,335.2 241.8,335.0 243.1,335.0 C244.5,335.0 246.0,335.4 246.9,336.2 C247.7,337.1 248.0,338.5 248.1,340.0 C248.2,341.5 247.8,343.3 247.5,345.0 C247.2,346.7 245.8,348.5 246.2,350.0 C246.7,351.5 248.5,352.5 250.0,353.8 C251.5,355.0 253.3,356.5 255.0,357.5 C256.7,358.5 258.3,359.3 260.0,360.0 C261.7,360.7 263.8,361.0 265.0,361.9 C266.2,362.7 267.3,363.6 267.5,365.0 C267.7,366.4 266.7,368.8 266.2,370.0 C265.8,371.2 271.2,372.1 265.0,372.5 C258.8,372.9 234.7,373.5 228.8,372.5 C222.8,371.5 229.1,368.3 229.4,366.2 C229.7,364.2 230.1,362.1 230.6,360.0 C231.1,357.9 231.8,355.8 232.5,353.8 C233.2,351.7 234.3,349.6 235.0,347.5 C235.7,345.4 236.2,343.1 236.9,341.2 C237.5,339.4 237.7,337.3 238.8,336.2 Z" fill="#1E9BFA"/>
<path d="M243.8,365.0 C244.7,364.2 246.1,363.2 247.5,363.1 C248.9,363.0 250.8,363.6 251.9,364.4 C252.9,365.1 253.5,366.1 253.8,367.5 C254.0,368.9 255.0,371.7 253.1,372.5 C251.2,373.3 244.4,373.2 242.5,372.5 C240.6,371.8 241.7,369.4 241.9,368.1 C242.1,366.9 242.8,365.8 243.8,365.0 Z" fill="#3C6CE0"/>
</g>
<g clip-path="url(#c285_295)">
<path d="M292.5,300.6 C294.6,300.0 297.5,299.1 300.0,298.8 C302.5,298.4 305.2,298.6 307.5,298.8 C309.8,298.9 312.3,298.8 313.8,299.4 C315.2,300.0 315.9,301.1 316.2,302.5 C316.6,303.9 315.6,305.8 315.6,307.5 C315.6,309.2 315.9,310.9 316.2,312.5 C316.6,314.1 317.8,315.6 317.5,316.9 C317.2,318.1 315.7,319.2 314.4,320.0 C313.0,320.8 310.8,321.1 309.4,321.9 C307.9,322.6 306.8,323.8 305.6,324.4 C304.5,325.0 303.5,325.9 302.5,325.6 C301.5,325.3 300.6,323.4 299.4,322.5 C298.1,321.6 296.5,320.6 295.0,320.0 C293.5,319.4 292.3,319.1 290.6,318.8 C289.0,318.4 286.4,318.2 285.0,318.1 C283.6,318.0 282.9,320.3 282.5,318.1 C282.1,315.9 281.7,307.6 282.5,305.0 C283.3,302.4 285.8,303.2 287.5,302.5 C289.2,301.8 290.4,301.2 292.5,300.6 Z" fill="#ABDAF1"/>
<path d="M326.2,301.2 C326.7,299.6 327.3,299.0 328.8,297.5 C330.2,296.0 331.5,293.3 335.0,292.5 C338.5,291.7 346.7,291.2 350.0,292.5 C353.3,293.8 353.3,297.7 355.0,300.0 C356.7,302.3 358.8,305.0 360.0,306.2 C361.2,307.5 362.1,305.8 362.5,307.5 C362.9,309.2 363.3,314.4 362.5,316.2 C361.7,318.1 359.2,318.0 357.5,318.8 C355.8,319.5 354.2,320.2 352.5,320.6 C350.8,321.0 349.4,321.2 347.5,321.2 C345.6,321.2 343.1,320.5 341.2,320.6 C339.4,320.7 337.9,321.8 336.2,321.9 C334.6,322.0 332.7,321.9 331.2,321.2 C329.8,320.6 328.4,319.4 327.5,318.1 C326.6,316.9 325.8,315.5 325.6,313.8 C325.4,312.0 326.1,309.6 326.2,307.5 C326.4,305.4 325.8,302.9 326.2,301.2 Z" fill="#ABDAF1"/>
<path d="M315.0,300.0 C316.8,298.8 325.4,298.2 327.5,299.4 C329.6,300.5 328.3,305.5 327.5,306.9 C326.7,308.2 324.3,307.5 322.5,307.5 C320.7,307.5 318.1,308.1 316.9,306.9 C315.6,305.6 313.2,301.2 315.0,300.0 Z" fill="#ABDAF1"/>
<path d="M282.5,336.2 C283.5,330.0 286.9,334.9 288.8,335.0 C290.6,335.1 292.4,335.8 293.8,336.9 C295.1,337.9 296.2,339.7 296.9,341.2 C297.5,342.8 297.8,344.6 297.5,346.2 C297.2,347.9 295.8,349.6 295.0,351.2 C294.2,352.9 293.3,354.6 292.5,356.2 C291.7,357.9 290.7,359.4 290.0,361.2 C289.3,363.1 288.5,365.6 288.1,367.5 C287.7,369.4 288.4,371.7 287.5,372.5 C286.6,373.3 283.3,378.5 282.5,372.5 C281.7,366.5 281.5,342.5 282.5,336.2 Z" fill="#ABDAF1"/>
<path d="M282.5,330.6 C283.2,330.1 285.9,330.3 286.9,330.6 C287.9,330.9 288.5,331.9 288.5,332.5 C288.5,333.1 287.9,333.8 286.9,334.0 C285.9,334.2 283.2,334.6 282.5,334.0 C281.8,333.4 281.8,331.2 282.5,330.6 Z" fill="#ABDAF1"/>
<path d="M305.0,372.5 C295.6,371.5 305.7,368.1 306.2,366.2 C306.8,364.4 307.2,362.7 308.1,361.2 C309.1,359.8 310.9,358.9 311.9,357.5 C312.8,356.1 312.7,354.3 313.8,353.1 C314.8,352.0 316.5,351.4 318.1,350.6 C319.8,349.9 322.2,348.8 323.8,348.8 C325.3,348.8 327.0,349.8 327.5,350.6 C328.0,351.5 327.7,352.8 326.9,353.8 C326.0,354.7 323.8,355.4 322.5,356.2 C321.2,357.1 320.0,357.7 319.4,358.8 C318.8,359.8 318.2,361.5 318.8,362.5 C319.3,363.5 320.8,364.4 322.5,365.0 C324.2,365.6 326.7,366.2 328.8,366.2 C330.8,366.2 332.9,365.5 335.0,365.0 C337.1,364.5 339.2,363.3 341.2,363.1 C343.3,362.9 345.4,363.4 347.5,363.8 C349.6,364.1 351.7,364.9 353.8,365.0 C355.8,365.1 358.5,364.6 360.0,364.4 C361.5,364.2 362.1,362.4 362.5,363.8 C362.9,365.1 372.1,371.0 362.5,372.5 C352.9,374.0 314.4,373.5 305.0,372.5 Z" fill="#FFC31A"/>
<path d="M362.5,340.6 C361.6,338.4 358.4,340.7 356.9,341.2 C355.4,341.8 354.0,342.7 353.5,343.8 C353.0,344.8 353.3,346.2 353.8,347.5 C354.2,348.8 355.2,350.2 356.2,351.2 C357.3,352.3 359.0,353.2 360.0,353.8 C361.0,354.3 362.1,356.6 362.5,354.4 C362.9,352.2 363.4,342.8 362.5,340.6 Z" fill="#FFC31A"/>
<path d="M282.5,292.5 C283.8,291.6 288.9,291.8 290.0,292.5 C291.1,293.2 290.0,295.9 289.4,296.9 C288.8,297.8 287.4,297.9 286.2,298.1 C285.1,298.3 283.1,299.1 282.5,298.1 C281.9,297.2 281.2,293.4 282.5,292.5 Z" fill="#FFC31A"/>
</g>
<g clip-path="url(#c360_295)">
<path d="M357.5,292.5 L437.5,292.5 L437.5,372.5 L357.5,372.5 Z" fill="#FFC31A"/>
<path d="M357.5,306.2 C359.2,301.4 364.6,309.8 367.5,311.2 C370.4,312.7 372.5,313.6 375.0,315.0 C377.5,316.4 380.4,318.3 382.5,319.4 C384.6,320.4 387.1,320.6 387.5,321.2 C387.9,321.9 386.1,322.4 385.0,323.1 C383.9,323.9 381.8,324.6 380.6,325.6 C379.5,326.7 378.8,327.8 378.1,329.4 C377.5,330.9 377.1,333.2 376.9,335.0 C376.7,336.8 377.2,338.4 376.9,340.0 C376.6,341.6 375.9,343.6 375.0,344.4 C374.1,345.1 372.7,344.8 371.2,344.4 C369.8,344.0 367.9,342.5 366.2,341.9 C364.6,341.2 362.7,340.8 361.2,340.6 C359.8,340.4 358.1,346.4 357.5,340.6 C356.9,334.9 355.8,311.1 357.5,306.2 Z" fill="#FFF07A"/>
<path d="M357.5,359.4 C358.1,358.4 360.4,359.4 361.2,360.0 C362.1,360.6 362.8,362.2 362.8,363.1 C362.8,364.1 362.1,365.2 361.2,365.6 C360.4,366.0 358.1,366.7 357.5,365.6 C356.9,364.6 356.9,360.3 357.5,359.4 Z" fill="#FFF07A"/>
<path d="M410.0,372.5 C405.8,371.7 411.5,369.0 412.5,367.5 C413.5,366.0 415.0,365.0 416.2,363.8 C417.5,362.5 418.8,361.0 420.0,360.0 C421.2,359.0 422.3,358.0 423.8,357.5 C425.2,357.0 426.9,356.9 428.8,356.9 C430.6,356.9 433.5,357.4 435.0,357.5 C436.5,357.6 437.1,355.0 437.5,357.5 C437.9,360.0 442.1,370.0 437.5,372.5 C432.9,375.0 414.2,373.3 410.0,372.5 Z" fill="#FF8000"/>
</g>
<g clip-path="url(#c420_310)">
<path d="M417.5,307.5 L497.5,307.5 L497.5,387.5 L417.5,387.5 Z" fill="#FFC31A"/>
<path d="M417.5,359.4 C418.8,354.3 422.5,357.6 425.0,357.2 C427.5,356.9 430.0,357.4 432.5,357.5 C435.0,357.6 437.5,358.2 440.0,358.1 C442.5,358.1 445.0,357.7 447.5,357.2 C450.0,356.8 446.7,355.9 455.0,355.6 C463.3,355.4 490.4,350.3 497.5,355.6 C504.6,360.9 510.8,382.2 497.5,387.5 C484.2,392.8 430.8,392.2 417.5,387.5 C404.2,382.8 416.2,364.4 417.5,359.4 Z" fill="#FF8000"/>
</g>
<g clip-path="url(#c100_370)">
<path d="M107.5,367.5 C110.2,366.2 122.3,366.5 125.0,367.5 C127.7,368.5 124.1,371.9 123.8,373.8 C123.4,375.6 123.1,377.3 123.1,378.8 C123.1,380.2 124.1,381.2 123.8,382.5 C123.4,383.8 122.1,385.5 121.2,386.2 C120.4,387.0 119.6,387.5 118.8,386.9 C117.9,386.2 117.3,384.1 116.2,382.5 C115.2,380.9 113.8,378.8 112.5,377.5 C111.2,376.2 109.6,376.7 108.8,375.0 C107.9,373.3 104.8,368.8 107.5,367.5 Z" fill="#FFC31A"/>
<path d="M128.8,408.8 C130.0,407.7 131.0,406.2 132.5,405.0 C134.0,403.8 135.8,402.4 137.5,401.2 C139.2,400.1 141.1,399.3 142.5,398.1 C143.9,397.0 144.7,395.7 145.6,394.4 C146.6,393.0 147.2,391.2 148.1,390.0 C149.1,388.8 150.3,387.1 151.2,386.9 C152.2,386.7 153.1,387.6 153.8,388.8 C154.4,389.9 154.5,392.1 155.0,393.8 C155.5,395.4 156.1,397.1 156.9,398.8 C157.6,400.4 158.6,402.1 159.4,403.8 C160.1,405.4 160.8,407.1 161.2,408.8 C161.7,410.4 161.2,412.6 161.9,413.8 C162.5,414.9 163.9,415.7 165.0,415.6 C166.1,415.5 167.6,414.1 168.8,413.1 C169.9,412.2 170.8,410.7 171.9,410.0 C172.9,409.3 174.1,409.1 175.0,408.8 C175.9,408.4 177.1,401.7 177.5,408.1 C177.9,414.6 186.2,440.9 177.5,447.5 C168.8,454.1 133.8,453.5 125.0,447.5 C116.2,441.5 124.4,417.7 125.0,411.2 C125.6,404.8 127.5,409.8 128.8,408.8 Z" fill="#FFC31A"/>
<path d="M140.0,406.2 C140.9,405.6 142.1,404.1 143.1,403.8 C144.2,403.4 145.2,403.8 146.2,404.4 C147.3,405.0 148.5,406.1 149.4,407.5 C150.2,408.9 150.8,410.8 151.2,412.5 C151.7,414.2 151.8,415.8 152.2,417.5 C152.7,419.2 153.0,420.8 153.8,422.5 C154.5,424.2 155.8,426.0 156.9,427.5 C157.9,429.0 159.1,430.0 160.0,431.2 C160.9,432.5 162.1,433.5 162.5,435.0 C162.9,436.5 166.7,439.2 162.5,440.0 C158.3,440.8 141.7,445.4 137.5,440.0 C133.3,434.6 137.1,413.1 137.5,407.5 C137.9,401.9 139.1,406.9 140.0,406.2 Z" fill="#FF8000"/>
<path d="M106.9,367.5 C107.4,366.8 111.1,366.9 111.9,367.5 C112.6,368.1 111.8,370.5 111.2,371.2 C110.7,372.0 109.5,372.5 108.8,371.9 C108.0,371.2 106.4,368.2 106.9,367.5 Z" fill="#FF8000"/>
<path d="M133.8,367.5 C131.4,368.5 133.5,371.9 133.8,373.8 C134.0,375.6 134.5,377.2 135.0,378.8 C135.5,380.3 136.2,382.2 136.9,383.1 C137.5,384.1 138.0,384.7 138.8,384.4 C139.5,384.1 140.3,382.4 141.2,381.2 C142.2,380.1 143.3,378.5 144.4,377.5 C145.4,376.5 146.9,376.7 147.5,375.0 C148.1,373.3 150.4,368.8 148.1,367.5 C145.8,366.2 136.1,366.5 133.8,367.5 Z" fill="#ABDAF1"/>
<path d="M129.8,391.2 C129.9,390.6 130.6,389.5 131.2,389.0 C131.9,388.5 133.2,388.2 133.8,388.5 C134.3,388.8 134.5,389.9 134.4,390.6 C134.2,391.3 133.4,392.3 132.8,392.8 C132.1,393.2 131.1,393.4 130.6,393.1 C130.1,392.9 129.6,391.9 129.8,391.2 Z" fill="#ABDAF1"/>
<path d="M158.8,390.0 C158.9,388.6 160.0,387.3 161.2,386.2 C162.5,385.2 164.5,384.2 166.2,383.8 C168.0,383.3 170.0,383.5 171.9,383.8 C173.8,384.0 176.6,382.3 177.5,385.0 C178.4,387.7 178.1,397.3 177.5,400.0 C176.9,402.7 175.3,401.2 173.8,401.2 C172.2,401.2 169.8,400.6 168.1,400.0 C166.5,399.4 165.0,398.4 163.8,397.5 C162.5,396.6 161.5,395.6 160.6,394.4 C159.8,393.1 158.6,391.4 158.8,390.0 Z" fill="#ABDAF1"/>
<path d="M147.5,367.5 C146.0,368.3 148.8,371.9 150.0,372.5 C151.2,373.1 153.5,372.1 155.0,371.2 C156.5,370.4 160.0,368.1 158.8,367.5 C157.5,366.9 149.0,366.7 147.5,367.5 Z" fill="#ABDAF1"/>
</g>
<g clip-path="url(#c175_370)">
<path d="M172.5,367.5 L252.5,367.5 L252.5,447.5 L172.5,447.5 Z" fill="#ABDAF1"/>
<path d="M172.5,367.5 C179.8,364.2 209.2,366.5 216.2,367.5 C223.3,368.5 215.6,371.9 215.0,373.8 C214.4,375.6 213.5,377.3 212.5,378.8 C211.5,380.2 209.8,381.1 208.8,382.5 C207.7,383.9 206.8,385.3 206.2,386.9 C205.7,388.4 206.1,390.6 205.6,391.9 C205.1,393.1 204.3,394.1 203.1,394.4 C202.0,394.7 199.9,394.4 198.8,393.8 C197.6,393.1 196.8,391.9 196.2,390.6 C195.7,389.4 195.8,387.6 195.6,386.2 C195.4,384.9 195.9,383.2 195.0,382.5 C194.1,381.8 191.7,381.8 190.0,381.9 C188.3,382.0 186.7,382.5 185.0,383.1 C183.3,383.8 182.1,384.9 180.0,385.6 C177.9,386.4 173.8,390.5 172.5,387.5 C171.2,384.5 165.2,370.8 172.5,367.5 Z" fill="#FFF07A"/>
<path d="M172.5,399.4 C173.8,391.5 177.7,400.0 180.0,400.0 C182.3,400.0 184.4,399.4 186.2,399.4 C188.1,399.4 189.9,399.3 191.2,400.0 C192.6,400.7 193.4,402.3 194.4,403.8 C195.3,405.2 196.1,407.1 196.9,408.8 C197.6,410.4 198.1,412.1 198.8,413.8 C199.4,415.4 200.1,417.1 200.6,418.8 C201.1,420.4 201.6,421.9 201.9,423.8 C202.2,425.6 202.4,427.7 202.5,430.0 C202.6,432.3 202.6,434.6 202.8,437.5 C202.9,440.4 208.2,445.8 203.1,447.5 C198.1,449.2 177.6,455.5 172.5,447.5 C167.4,439.5 171.2,407.3 172.5,399.4 Z" fill="#FFF07A"/>
<path d="M228.8,418.8 C229.5,417.7 230.6,416.8 231.9,416.2 C233.1,415.7 234.9,415.3 236.2,415.6 C237.6,415.9 238.9,417.0 240.0,418.1 C241.1,419.3 242.1,420.9 243.1,422.5 C244.2,424.1 245.6,425.9 246.2,427.5 C246.9,429.1 247.2,430.7 246.9,431.9 C246.6,433.0 245.5,434.1 244.4,434.4 C243.2,434.7 241.6,434.1 240.0,433.8 C238.4,433.4 236.6,433.1 235.0,432.5 C233.4,431.9 231.8,431.0 230.6,430.0 C229.5,429.0 228.6,427.5 228.1,426.2 C227.6,425.0 227.4,423.8 227.5,422.5 C227.6,421.2 228.0,419.8 228.8,418.8 Z" fill="#FFF07A"/>
<path d="M172.5,413.1 C173.5,407.6 176.7,413.8 178.8,414.4 C180.8,415.0 183.1,416.2 185.0,416.9 C186.9,417.5 188.6,417.4 190.0,418.1 C191.4,418.9 192.4,419.9 193.1,421.2 C193.9,422.6 194.1,424.4 194.4,426.2 C194.7,428.1 194.8,430.2 195.0,432.5 C195.2,434.8 195.5,437.5 195.6,440.0 C195.7,442.5 199.5,446.2 195.6,447.5 C191.8,448.8 176.4,453.2 172.5,447.5 C168.6,441.8 171.5,418.6 172.5,413.1 Z" fill="#FFC31A"/>
<path d="M200.6,367.5 C199.1,368.2 201.0,370.8 201.9,371.9 C202.7,372.9 204.4,373.5 205.6,373.8 C206.9,374.0 208.4,374.2 209.4,373.1 C210.3,372.1 212.7,368.4 211.2,367.5 C209.8,366.6 202.2,366.8 200.6,367.5 Z" fill="#FFC31A"/>
<path d="M218.1,379.4 C219.0,378.4 220.1,377.2 221.2,376.2 C222.4,375.3 224.0,375.2 225.0,373.8 C226.0,372.3 222.9,368.5 227.5,367.5 C232.1,366.5 248.3,365.0 252.5,367.5 C256.7,370.0 253.3,379.6 252.5,382.5 C251.7,385.4 249.2,384.2 247.5,385.0 C245.8,385.8 243.8,386.5 242.5,387.5 C241.2,388.5 240.6,389.8 240.0,391.2 C239.4,392.7 239.3,394.8 238.8,396.2 C238.2,397.7 237.7,399.2 236.9,400.0 C236.0,400.8 234.7,401.5 233.8,401.2 C232.8,401.0 232.0,399.8 231.2,398.8 C230.5,397.7 230.0,395.3 229.4,395.0 C228.8,394.7 228.2,396.1 227.5,396.9 C226.8,397.6 226.0,398.8 225.0,399.4 C224.0,400.0 222.5,400.4 221.2,400.6 C220.0,400.8 218.5,400.8 217.5,400.6 C216.5,400.4 215.7,399.1 215.0,399.4 C214.3,399.7 213.9,401.4 213.1,402.5 C212.4,403.6 211.6,405.4 210.6,406.2 C209.7,407.1 208.5,407.5 207.5,407.5 C206.5,407.5 205.0,407.0 204.4,406.2 C203.7,405.5 203.4,404.2 203.5,403.1 C203.6,402.1 204.2,400.6 205.0,400.0 C205.8,399.4 207.1,399.7 208.1,399.4 C209.2,399.1 210.4,399.0 211.2,398.1 C212.1,397.3 212.7,395.7 213.1,394.4 C213.5,393.0 213.4,391.6 213.8,390.0 C214.1,388.4 214.6,386.4 215.0,385.0 C215.4,383.6 215.7,382.8 216.2,381.9 C216.8,380.9 217.3,380.3 218.1,379.4 Z" fill="#3ABEF5"/>
<path d="M231.2,367.5 C228.1,368.5 232.9,372.1 233.8,373.8 C234.6,375.4 235.4,376.4 236.2,377.5 C237.1,378.6 237.7,380.2 238.8,380.6 C239.8,381.0 241.1,380.6 242.5,380.0 C243.9,379.4 245.2,377.9 246.9,376.9 C248.5,375.8 251.6,375.3 252.5,373.8 C253.4,372.2 256.0,368.5 252.5,367.5 C249.0,366.5 234.4,366.5 231.2,367.5 Z" fill="#1E9BFA"/>
<path d="M245.0,367.5 C244.2,368.0 246.2,370.2 247.5,370.6 C248.8,371.0 251.7,370.5 252.5,370.0 C253.3,369.5 253.8,367.9 252.5,367.5 C251.2,367.1 245.8,367.0 245.0,367.5 Z" fill="#3C6CE0"/>
</g>
<g clip-path="url(#c60_145)">
<path d="M57.5,142.5 L137.5,142.5 L137.5,222.5 L57.5,222.5 Z" fill="#CC0000"/>
</g>
<g clip-path="url(#c250_370)">
<path d="M247.5,367.5 C254.2,363.0 281.2,366.7 287.5,367.5 C293.8,368.3 285.9,371.0 285.0,372.5 C284.1,374.0 282.8,374.9 281.9,376.2 C280.9,377.6 280.0,379.2 279.4,380.6 C278.8,382.1 278.6,383.9 278.1,385.0 C277.6,386.1 277.1,387.3 276.2,387.5 C275.4,387.7 274.1,387.1 273.1,386.2 C272.2,385.4 271.5,383.5 270.6,382.5 C269.8,381.5 269.3,380.3 268.1,380.0 C267.0,379.7 265.1,380.1 263.8,380.6 C262.4,381.1 261.2,382.3 260.0,383.1 C258.8,384.0 257.3,384.7 256.2,385.6 C255.2,386.6 254.4,387.6 253.8,388.8 C253.1,389.9 253.1,391.7 252.5,392.5 C251.9,393.3 250.8,393.4 250.0,393.8 C249.2,394.1 247.9,398.8 247.5,394.4 C247.1,390.0 240.8,372.0 247.5,367.5 Z" fill="#ABDAF1"/>
<path d="M247.5,395.0 C248.5,386.1 251.7,394.3 253.8,394.4 C255.8,394.5 258.2,395.0 260.0,395.6 C261.8,396.2 263.2,397.0 264.4,398.1 C265.5,399.3 266.5,400.9 266.9,402.5 C267.3,404.1 267.0,405.8 266.9,407.5 C266.8,409.2 265.9,411.4 266.2,412.5 C266.6,413.6 267.3,414.3 268.8,414.4 C270.2,414.5 273.2,413.1 275.0,413.1 C276.8,413.1 278.1,413.5 279.4,414.4 C280.6,415.2 281.6,416.8 282.5,418.1 C283.4,419.5 284.4,421.1 285.0,422.5 C285.6,423.9 286.1,425.0 286.2,426.2 C286.4,427.5 286.0,428.9 285.6,430.0 C285.2,431.1 284.9,432.3 283.8,433.1 C282.6,434.0 280.4,434.6 278.8,435.0 C277.1,435.4 275.0,435.1 273.8,435.6 C272.5,436.1 271.9,437.1 271.2,438.1 C270.6,439.2 270.4,440.3 270.0,441.9 C269.6,443.4 272.5,446.6 268.8,447.5 C265.0,448.4 251.0,456.2 247.5,447.5 C244.0,438.8 246.5,403.9 247.5,395.0 Z" fill="#ABDAF1"/>
<path d="M247.5,367.5 C252.1,365.1 270.7,366.8 275.0,367.5 C279.3,368.2 274.2,370.7 273.1,371.9 C272.1,373.0 270.3,373.6 268.8,374.4 C267.2,375.1 265.4,375.5 263.8,376.2 C262.1,377.0 260.4,378.0 258.8,378.8 C257.1,379.5 255.6,380.1 253.8,380.6 C251.9,381.1 248.5,384.1 247.5,381.9 C246.5,379.7 242.9,369.9 247.5,367.5 Z" fill="#3ABEF5"/>
<path d="M247.5,367.5 C250.2,365.8 261.4,366.9 263.8,367.5 C266.1,368.1 262.9,370.2 261.9,371.2 C260.8,372.3 259.1,372.9 257.5,373.8 C255.9,374.6 254.2,375.6 252.5,376.2 C250.8,376.9 248.3,379.0 247.5,377.5 C246.7,376.0 244.8,369.2 247.5,367.5 Z" fill="#1E9BFA"/>
<path d="M305.0,367.5 C301.0,368.5 303.8,372.0 303.8,373.8 C303.8,375.5 304.2,376.9 305.0,378.1 C305.8,379.4 307.5,380.2 308.8,381.2 C310.0,382.3 311.2,383.1 312.5,384.4 C313.8,385.6 315.1,387.3 316.2,388.8 C317.4,390.2 318.5,391.7 319.4,393.1 C320.2,394.6 320.8,396.0 321.2,397.5 C321.7,399.0 322.3,401.1 321.9,401.9 C321.5,402.6 320.1,402.2 318.8,401.9 C317.4,401.6 315.4,400.8 313.8,400.0 C312.1,399.2 310.4,397.6 308.8,396.9 C307.1,396.1 305.2,395.6 303.8,395.6 C302.3,395.6 301.1,396.1 300.0,396.9 C298.9,397.6 297.8,399.0 296.9,400.0 C295.9,401.0 294.9,401.9 294.4,403.1 C293.9,404.4 294.1,405.9 293.8,407.5 C293.4,409.1 292.6,410.7 292.5,412.5 C292.4,414.3 292.7,416.5 293.1,418.1 C293.5,419.8 294.4,420.9 295.0,422.5 C295.6,424.1 296.4,425.8 296.9,427.5 C297.4,429.2 298.0,430.8 298.1,432.5 C298.2,434.2 297.9,435.8 297.5,437.5 C297.1,439.2 296.2,440.8 295.6,442.5 C295.0,444.2 288.4,446.7 293.8,447.5 C299.1,448.3 321.9,460.8 327.5,447.5 C333.1,434.2 331.2,380.8 327.5,367.5 C323.8,354.2 309.0,366.5 305.0,367.5 Z" fill="#FFC31A"/>
<path d="M306.9,447.5 C303.5,446.2 307.2,442.1 307.5,440.0 C307.8,437.9 307.9,436.1 308.8,435.0 C309.6,433.9 311.0,433.5 312.5,433.1 C314.0,432.7 315.9,432.9 317.5,432.5 C319.1,432.1 320.2,431.0 321.9,430.6 C323.5,430.2 326.6,427.2 327.5,430.0 C328.4,432.8 330.9,444.6 327.5,447.5 C324.1,450.4 310.2,448.8 306.9,447.5 Z" fill="#FF8000"/>
</g>
<g clip-path="url(#c325_370)">
<path d="M322.5,367.5 L402.5,367.5 L402.5,447.5 L322.5,447.5 Z" fill="#FFC31A"/>
<path d="M372.5,379.4 C373.0,378.0 374.0,376.5 375.0,375.6 C376.0,374.8 377.4,374.4 378.8,374.4 C380.1,374.4 381.8,374.9 383.1,375.6 C384.5,376.4 385.5,377.9 386.9,378.8 C388.2,379.6 389.7,380.2 391.2,380.6 C392.8,381.0 394.4,381.2 396.2,381.2 C398.1,381.2 401.5,373.8 402.5,380.6 C403.5,387.5 403.8,415.5 402.5,422.5 C401.2,429.5 397.5,422.6 395.0,422.5 C392.5,422.4 390.0,422.1 387.5,421.9 C385.0,421.7 382.3,421.5 380.0,421.2 C377.7,421.0 375.7,421.1 373.8,420.6 C371.8,420.1 369.6,419.3 368.1,418.1 C366.7,417.0 365.7,415.3 365.0,413.8 C364.3,412.2 364.1,410.4 363.8,408.8 C363.4,407.1 363.5,405.2 363.1,403.8 C362.7,402.3 362.1,400.7 361.2,400.0 C360.4,399.3 359.4,399.7 358.1,399.4 C356.9,399.1 355.5,398.5 353.8,398.1 C352.0,397.7 349.6,397.2 347.5,396.9 C345.4,396.6 343.0,396.7 341.2,396.2 C339.5,395.8 338.1,395.1 336.9,394.4 C335.6,393.6 334.2,392.8 333.8,391.9 C333.3,390.9 333.6,389.6 334.4,388.8 C335.1,387.9 336.6,387.3 338.1,386.9 C339.7,386.5 341.9,386.2 343.8,386.2 C345.6,386.2 347.7,386.5 349.4,386.9 C351.0,387.3 352.5,387.8 353.8,388.8 C355.0,389.7 355.9,391.4 356.9,392.5 C357.8,393.6 358.2,394.8 359.4,395.6 C360.5,396.5 362.3,397.3 363.8,397.5 C365.2,397.7 366.9,397.4 368.1,396.9 C369.4,396.4 370.6,395.7 371.2,394.4 C371.9,393.0 371.8,390.5 371.9,388.8 C372.0,387.0 371.8,385.3 371.9,383.8 C372.0,382.2 372.0,380.7 372.5,379.4 Z" fill="#FF8000"/>
<path d="M322.5,433.1 C323.2,431.2 325.5,433.2 326.9,433.8 C328.2,434.3 329.7,435.3 330.6,436.2 C331.6,437.2 332.4,438.1 332.5,439.4 C332.6,440.6 332.9,442.8 331.2,443.8 C329.6,444.7 324.0,446.8 322.5,445.0 C321.0,443.2 321.8,435.0 322.5,433.1 Z" fill="#FF8000"/>
</g>
<g clip-path="url(#c385_350)">
<path d="M382.5,347.5 L462.5,347.5 L462.5,427.5 L382.5,427.5 Z" fill="#FFC31A"/>
<path d="M382.5,376.9 C383.5,368.9 386.9,378.8 388.8,379.4 C390.6,380.0 392.2,380.5 393.8,380.6 C395.3,380.7 396.9,380.6 398.1,380.0 C399.4,379.4 400.1,378.0 401.2,376.9 C402.4,375.7 403.6,374.5 405.0,373.1 C406.4,371.8 407.9,370.1 409.4,368.8 C410.8,367.4 412.3,366.2 413.8,365.0 C415.2,363.8 416.7,362.4 418.1,361.2 C419.6,360.1 420.7,358.9 422.5,358.1 C424.3,357.4 426.7,357.0 428.8,356.9 C430.8,356.8 432.9,357.3 435.0,357.5 C437.1,357.7 439.2,358.1 441.2,358.1 C443.3,358.1 445.6,357.7 447.5,357.5 C449.4,357.3 450.0,357.3 452.5,356.9 C455.0,356.5 460.8,343.2 462.5,355.0 C464.2,366.8 475.8,415.4 462.5,427.5 C449.2,439.6 395.8,435.9 382.5,427.5 C369.2,419.1 381.5,384.9 382.5,376.9 Z" fill="#FF8000"/>
</g>
<g clip-path="url(#c175_420)">
<path d="M172.5,417.5 L252.5,417.5 L252.5,497.5 L172.5,497.5 Z" fill="#ABDAF1"/>
<path d="M187.5,417.5 C189.9,410.4 199.5,416.0 201.9,417.5 C204.3,419.0 201.8,423.5 201.9,426.2 C202.0,429.0 202.3,431.2 202.5,433.8 C202.7,436.2 202.9,438.8 203.1,441.2 C203.4,443.8 203.5,446.7 204.0,448.8 C204.5,450.8 205.2,452.2 206.2,453.8 C207.2,455.3 211.0,457.1 210.0,458.1 C209.0,459.2 203.8,459.7 200.0,460.0 C196.2,460.3 189.6,467.1 187.5,460.0 C185.4,452.9 185.1,424.6 187.5,417.5 Z" fill="#FFF07A"/>
<path d="M172.5,417.5 C176.0,412.1 190.0,416.0 193.8,417.5 C197.5,419.0 194.5,423.3 194.8,426.2 C195.0,429.2 195.1,432.3 195.2,435.0 C195.4,437.7 195.7,440.0 195.8,442.5 C195.8,445.0 199.5,448.8 195.6,450.0 C191.8,451.2 176.4,455.4 172.5,450.0 C168.6,444.6 169.0,422.9 172.5,417.5 Z" fill="#FFC31A"/>
<path d="M228.8,417.5 C226.1,418.5 228.1,421.9 228.1,423.8 C228.1,425.6 228.0,427.4 228.8,428.8 C229.5,430.1 231.0,431.0 232.5,431.9 C234.0,432.7 235.7,433.3 237.5,433.8 C239.3,434.2 241.5,434.7 243.1,434.4 C244.8,434.1 246.6,433.0 247.5,431.9 C248.4,430.7 249.0,429.1 248.8,427.5 C248.5,425.9 247.1,424.2 246.2,422.5 C245.4,420.8 246.7,418.3 243.8,417.5 C240.8,416.7 231.4,416.5 228.8,417.5 Z" fill="#FFF07A"/>
</g>
<g clip-path="url(#c250_420)">
<path d="M247.5,417.5 C253.9,410.4 279.2,416.5 285.6,417.5 C292.1,418.5 286.4,421.9 286.2,423.8 C286.1,425.6 285.4,427.2 285.0,428.8 C284.6,430.3 284.6,432.1 283.8,433.1 C282.9,434.2 281.5,434.7 280.0,435.0 C278.5,435.3 276.5,434.8 275.0,435.0 C273.5,435.2 272.3,435.4 271.2,436.2 C270.2,437.1 269.3,438.5 268.8,440.0 C268.2,441.5 271.7,441.7 268.1,445.0 C264.6,448.3 250.9,464.6 247.5,460.0 C244.1,455.4 241.1,424.6 247.5,417.5 Z" fill="#ABDAF1"/>
<path d="M295.0,417.5 C289.8,418.8 296.0,422.5 296.2,425.0 C296.5,427.5 296.6,430.2 296.5,432.5 C296.4,434.8 296.3,437.1 295.6,438.8 C295.0,440.4 293.6,441.6 292.5,442.5 C291.4,443.4 289.9,443.9 288.8,444.4 C287.6,444.9 285.8,444.7 285.6,445.6 C285.4,446.6 280.5,449.3 287.5,450.0 C294.5,450.7 320.8,455.4 327.5,450.0 C334.2,444.6 332.9,422.9 327.5,417.5 C322.1,412.1 300.2,416.2 295.0,417.5 Z" fill="#FFC31A"/>
<path d="M306.9,442.5 C306.7,440.7 307.0,437.7 307.5,436.2 C308.0,434.8 308.8,434.3 310.0,433.8 C311.2,433.2 313.3,433.4 315.0,433.1 C316.7,432.8 318.5,432.4 320.0,431.9 C321.5,431.4 322.5,430.5 323.8,430.0 C325.0,429.5 326.9,426.2 327.5,428.8 C328.1,431.2 330.0,442.3 327.5,445.0 C325.0,447.7 315.6,444.7 312.5,445.0 C309.4,445.3 309.7,447.3 308.8,446.9 C307.8,446.5 307.1,444.3 306.9,442.5 Z" fill="#FF8000"/>
</g>
</g>
<g clip-path="url(#frame)" fill="none" stroke-linejoin="round" stroke-linecap="round">
<path d="M255.0,140.5 C256.7,141.2 261.7,143.6 265.0,145.0 C268.3,146.4 271.9,147.8 275.0,149.0 C278.1,150.2 281.5,151.4 283.8,152.2 C286.0,153.1 287.1,153.1 288.8,154.4 C290.4,155.7 291.9,157.8 293.8,160.0 C295.6,162.2 297.7,165.2 300.0,167.5 C302.3,169.8 305.0,171.5 307.5,173.8 C310.0,176.0 312.5,178.5 315.0,181.2 C317.5,184.0 320.2,187.3 322.5,190.0 C324.8,192.7 326.7,195.0 328.8,197.5 C330.8,200.0 332.9,202.7 335.0,205.0 C337.1,207.3 339.4,209.4 341.2,211.2 C343.1,213.1 345.2,214.8 346.2,216.2 C347.3,217.7 347.3,219.4 347.5,220.0" stroke="#8c8c8c" stroke-width="0.7"/>
<path d="M334.0,140.5 C334.1,141.2 333.9,142.8 334.4,145.0 C334.9,147.2 335.8,150.6 336.9,153.8 C337.9,156.9 339.5,160.6 340.6,163.8 C341.8,166.9 342.8,170.2 343.8,172.5 C344.7,174.8 346.0,175.4 346.2,177.5 C346.5,179.6 345.4,182.7 345.0,185.0 C344.6,187.3 343.3,189.2 343.8,191.2 C344.2,193.3 346.0,195.2 347.5,197.5 C349.0,199.8 350.9,203.5 352.5,205.0 C354.1,206.5 355.6,206.0 356.9,206.2 C358.1,206.5 359.5,206.5 360.0,206.5" stroke="#8c8c8c" stroke-width="0.7"/>
<path d="M348.1,220.0 C348.5,221.5 351.4,226.7 350.6,228.8 C349.9,230.8 345.9,231.3 343.8,232.5 C341.6,233.7 337.5,234.5 337.5,236.0 C337.5,237.5 341.7,239.3 343.8,241.2 C345.8,243.2 348.1,245.4 350.0,247.5 C351.9,249.6 353.3,251.9 355.0,253.8 C356.7,255.6 359.2,257.9 360.0,258.8" stroke="#8c8c8c" stroke-width="0.7"/>
<path d="M360.0,258.8 C361.3,259.7 365.3,262.8 368.0,264.5 C370.7,266.2 372.5,267.5 376.3,268.8 C380.1,270.1 386.1,272.8 391.0,272.5 C395.9,272.2 400.8,268.5 405.7,267.0 C410.6,265.5 415.4,264.0 420.3,263.3 C425.2,262.6 430.1,263.5 435.0,262.6 C439.9,261.7 444.8,259.5 449.7,257.8 C454.6,256.1 459.0,253.3 464.3,252.3 C469.6,251.3 478.6,251.7 481.5,251.6" stroke="#8c8c8c" stroke-width="0.7"/>
<path d="M360.0,206.5 C361.7,206.4 366.7,206.3 370.0,206.0 C373.3,205.7 375.3,205.8 380.0,204.7 C384.7,203.6 393.1,201.3 398.3,199.2 C403.5,197.0 407.5,193.5 411.2,191.8 C414.9,190.2 416.9,189.6 420.3,189.3 C423.7,189.0 427.6,190.4 431.3,190.0 C435.0,189.6 438.9,187.6 442.3,186.8 C445.8,186.0 449.4,185.8 452.0,185.2 C454.6,184.6 457.0,183.4 458.0,183.0" stroke="#8c8c8c" stroke-width="0.7"/>
<path d="M441.7,471.3 C446.1,466.8 462.5,450.8 468.3,444.2 C474.1,437.6 474.5,435.7 476.7,431.7 C478.9,427.7 480.9,421.9 481.7,420.0" stroke="#8c8c8c" stroke-width="0.7"/>
<path d="M95.0,305.0 L95.8,295.0 L97.5,285.0 L100.0,275.0 L99.7,266.7 L103.3,261.7 L107.5,258.0 L111.7,260.0 L115.8,259.2 L118.3,255.0 L117.5,248.3 L119.2,242.5 L120.8,235.0 L124.2,230.0 L126.7,227.5 L130.0,221.7 L133.3,215.8 L135.8,210.8 L138.3,208.3 L142.5,207.5 L150.0,206.2 L151.9,197.5 L155.0,186.2 L158.1,178.1 L159.4,170.0 L161.9,161.9 L165.0,161.0 L170.6,161.2 L175.6,161.9 L178.1,158.8 L184.4,157.2 L191.2,155.6 L194.4,150.0 L196.2,147.5 L200.0,146.5 L203.1,148.8 L205.6,151.2 L208.8,153.8 L210.0,155.0 L213.1,158.1 L217.5,156.9 L223.8,155.6 L228.8,153.1 L231.9,151.9 L234.4,153.8 L236.2,158.1 L238.8,155.0 L241.9,152.5 L243.1,150.6 L245.6,152.5 L247.5,155.0 L251.2,156.9 L253.8,158.1 L256.9,156.5 L260.0,156.2 L265.0,157.5 L270.0,160.6 L275.0,164.4 L280.0,168.1 L285.0,171.9 L286.7,174.2 L293.3,181.7 L300.0,188.3 L305.8,194.2 L309.2,197.5 L313.3,204.2 L318.3,210.0 L321.3,214.2 L316.7,220.8 L311.7,227.5 L307.5,233.3 L305.3,238.3 L305.8,246.7 L305.8,255.8 L311.7,255.0 L320.0,253.7 L328.3,252.5 L334.2,253.3 L337.5,255.3 L334.2,259.2 L331.7,264.2 L331.7,270.0 L334.2,275.0 L338.3,280.8 L343.3,286.7 L346.7,290.8 L350.0,295.0 L355.0,299.3 L360.0,304.3 L365.7,309.3 L372.5,313.2 L385.0,318.2 L395.0,321.3 L411.7,326.3 L428.3,332.5 L441.7,337.0 L448.3,339.2 L460.0,338.8 L475.3,338.3 L468.3,345.8 L460.0,354.2 L451.7,362.5 L443.3,370.8 L435.0,379.2 L425.8,389.2 L420.8,395.0 L411.7,404.2 L403.3,412.5 L394.2,423.3 L385.0,423.0 L375.0,422.7 L366.7,423.0 L360.0,424.2 L353.3,426.7 L346.7,430.0 L341.7,434.2 L338.3,438.3 L333.3,441.7 L330.0,440.8 L323.3,442.5 L316.7,444.2 L311.7,446.7 L308.3,450.0 L298.3,450.0 L288.3,450.3 L285.0,447.5 L281.7,444.2 L278.7,441.7 L271.7,443.3 L263.3,446.7 L256.7,450.0 L251.7,454.2 L247.5,460.0 L245.0,465.8 L240.0,464.2 L235.0,462.5 L230.0,461.7 L221.7,460.8 L211.7,460.3 L205.0,460.0 L200.0,455.8 L193.3,450.0 L183.3,444.2 L176.7,440.0 L171.7,437.5 L165.0,436.7 L156.7,436.7 L148.3,436.7 L144.2,433.3 L140.8,429.2 L140.8,421.7 L141.7,416.7 L142.5,412.5 L138.3,410.8 L132.5,410.0 L128.3,411.7 L126.7,407.5 L122.5,402.5 L119.2,396.7 L117.5,390.0 L117.5,383.3 L118.3,381.7 L115.0,378.3 L110.0,375.0 L105.8,370.8 L101.7,366.7 L96.7,362.5 L92.5,358.3 L90.0,353.3 L86.7,350.0 L81.7,347.5 L76.7,345.8 L71.7,345.0 L66.7,343.7 L63.7,340.8 L65.8,336.7 L68.3,333.3 L69.2,327.5 L73.3,326.3 L81.7,325.8 L86.7,326.7 L90.8,324.2 L94.2,321.7 L95.8,316.7 L95.3,308.3 L95.0,300.0 L95.0,305.0" stroke="#fff" stroke-width="3.6"/>
<path d="M95.0,305.0 L95.8,295.0 L97.5,285.0 L100.0,275.0 L99.7,266.7 L103.3,261.7 L107.5,258.0 L111.7,260.0 L115.8,259.2 L118.3,255.0 L117.5,248.3 L119.2,242.5 L120.8,235.0 L124.2,230.0 L126.7,227.5 L130.0,221.7 L133.3,215.8 L135.8,210.8 L138.3,208.3 L142.5,207.5 L150.0,206.2 L151.9,197.5 L155.0,186.2 L158.1,178.1 L159.4,170.0 L161.9,161.9 L165.0,161.0 L170.6,161.2 L175.6,161.9 L178.1,158.8 L184.4,157.2 L191.2,155.6 L194.4,150.0 L196.2,147.5 L200.0,146.5 L203.1,148.8 L205.6,151.2 L208.8,153.8 L210.0,155.0 L213.1,158.1 L217.5,156.9 L223.8,155.6 L228.8,153.1 L231.9,151.9 L234.4,153.8 L236.2,158.1 L238.8,155.0 L241.9,152.5 L243.1,150.6 L245.6,152.5 L247.5,155.0 L251.2,156.9 L253.8,158.1 L256.9,156.5 L260.0,156.2 L265.0,157.5 L270.0,160.6 L275.0,164.4 L280.0,168.1 L285.0,171.9 L286.7,174.2 L293.3,181.7 L300.0,188.3 L305.8,194.2 L309.2,197.5 L313.3,204.2 L318.3,210.0 L321.3,214.2 L316.7,220.8 L311.7,227.5 L307.5,233.3 L305.3,238.3 L305.8,246.7 L305.8,255.8 L311.7,255.0 L320.0,253.7 L328.3,252.5 L334.2,253.3 L337.5,255.3 L334.2,259.2 L331.7,264.2 L331.7,270.0 L334.2,275.0 L338.3,280.8 L343.3,286.7 L346.7,290.8 L350.0,295.0 L355.0,299.3 L360.0,304.3 L365.7,309.3 L372.5,313.2 L385.0,318.2 L395.0,321.3 L411.7,326.3 L428.3,332.5 L441.7,337.0 L448.3,339.2 L460.0,338.8 L475.3,338.3 L468.3,345.8 L460.0,354.2 L451.7,362.5 L443.3,370.8 L435.0,379.2 L425.8,389.2 L420.8,395.0 L411.7,404.2 L403.3,412.5 L394.2,423.3 L385.0,423.0 L375.0,422.7 L366.7,423.0 L360.0,424.2 L353.3,426.7 L346.7,430.0 L341.7,434.2 L338.3,438.3 L333.3,441.7 L330.0,440.8 L323.3,442.5 L316.7,444.2 L311.7,446.7 L308.3,450.0 L298.3,450.0 L288.3,450.3 L285.0,447.5 L281.7,444.2 L278.7,441.7 L271.7,443.3 L263.3,446.7 L256.7,450.0 L251.7,454.2 L247.5,460.0 L245.0,465.8 L240.0,464.2 L235.0,462.5 L230.0,461.7 L221.7,460.8 L211.7,460.3 L205.0,460.0 L200.0,455.8 L193.3,450.0 L183.3,444.2 L176.7,440.0 L171.7,437.5 L165.0,436.7 L156.7,436.7 L148.3,436.7 L144.2,433.3 L140.8,429.2 L140.8,421.7 L141.7,416.7 L142.5,412.5 L138.3,410.8 L132.5,410.0 L128.3,411.7 L126.7,407.5 L122.5,402.5 L119.2,396.7 L117.5,390.0 L117.5,383.3 L118.3,381.7 L115.0,378.3 L110.0,375.0 L105.8,370.8 L101.7,366.7 L96.7,362.5 L92.5,358.3 L90.0,353.3 L86.7,350.0 L81.7,347.5 L76.7,345.8 L71.7,345.0 L66.7,343.7 L63.7,340.8 L65.8,336.7 L68.3,333.3 L69.2,327.5 L73.3,326.3 L81.7,325.8 L86.7,326.7 L90.8,324.2 L94.2,321.7 L95.8,316.7 L95.3,308.3 L95.0,300.0 L95.0,305.0" stroke="#2a2a2a" stroke-width="0.85"/>
<path d="M197.5,220.0 L200.0,219.2 L204.2,217.1 L208.2,215.0 L211.8,211.8 L213.2,210.0" stroke="#000" stroke-width="0.95"/>
<path d="M183.8,157.5 L186.2,162.5 L189.4,167.5 L192.5,172.5 L195.0,176.2 L195.6,181.2 L193.8,185.0 L190.0,187.5 L185.0,189.4 L180.0,190.6 L176.2,189.4 L172.5,187.5 L170.0,185.6 L168.1,186.9 L165.6,188.1 L163.1,187.5 L161.2,185.0 L159.4,180.6 L158.1,178.1" stroke="#000" stroke-width="0.95"/>
<path d="M195.6,181.2 L197.5,183.8 L201.2,184.8 L206.2,184.0 L210.0,183.1" stroke="#000" stroke-width="0.95"/>
<path d="M217.5,190.6 L215.8,195.0 L215.0,196.6 L211.6,200.0 L210.9,205.0 L213.4,210.0 L214.1,214.1 L214.6,218.4 L219.2,218.8 L224.2,219.2 L227.5,220.0" stroke="#000" stroke-width="0.95"/>
<path d="M236.2,217.5 L239.2,217.9 L242.5,217.1 L245.0,219.2 L247.5,217.9 L250.0,217.5 L251.9,218.8" stroke="#000" stroke-width="0.95"/>
<path d="M213.1,158.1 L214.4,162.5 L215.6,167.5 L215.0,172.5 L216.2,177.5 L218.8,181.9 L220.6,185.0 L221.9,189.4 L221.2,191.2" stroke="#000" stroke-width="0.95"/>
<path d="M221.2,191.2 L217.5,188.8 L215.0,186.2 L212.5,183.8 L210.0,183.1" stroke="#000" stroke-width="0.95"/>
<path d="M221.2,191.2 L225.0,192.2 L228.8,193.1 L229.4,188.8 L230.0,185.0 L235.0,183.8 L240.0,182.5 L240.6,180.6" stroke="#000" stroke-width="0.95"/>
<path d="M228.8,193.1 L230.0,196.2 L233.1,198.8 L236.2,200.6 L236.9,205.0 L235.0,208.8 L233.8,212.5 L235.0,216.2 L236.2,220.0" stroke="#000" stroke-width="0.95"/>
<path d="M230.6,156.9 L231.9,161.2 L232.5,166.2 L233.8,171.2 L235.6,175.0 L240.0,176.2 L240.6,180.6" stroke="#000" stroke-width="0.95"/>
<path d="M236.2,158.1 L235.6,162.5 L236.9,165.6 L235.0,170.0 L234.4,173.1 L236.9,176.2 L240.6,178.8 L240.6,180.6 L245.0,181.2 L250.0,181.9 L251.9,180.6 L251.9,176.2 L252.5,171.2 L250.6,167.5 L247.5,165.6 L248.1,163.8 L251.2,162.5 L250.0,160.0 L251.2,157.5" stroke="#000" stroke-width="0.95"/>
<path d="M250.0,181.9 L249.4,186.2 L250.0,190.6 L251.9,195.0 L252.5,200.0 L253.8,203.8 L255.6,205.0" stroke="#000" stroke-width="0.95"/>
<path d="M255.6,205.0 L260.0,203.1 L265.0,200.6 L270.0,198.8 L273.1,199.0 L280.0,198.5 L285.0,198.1" stroke="#000" stroke-width="0.95"/>
<path d="M255.6,205.0 L253.1,208.8 L251.9,213.8 L251.2,220.0" stroke="#000" stroke-width="0.95"/>
<path d="M273.1,199.0 L273.8,205.0 L275.0,211.2 L276.2,220.0" stroke="#000" stroke-width="0.95"/>
<path d="M210.0,195.0 L212.5,192.5 L215.6,191.2 L217.5,190.6 L221.2,191.2" stroke="#000" stroke-width="0.95"/>
<path d="M285.0,198.8 L286.5,199.4 L286.5,205.0 L288.8,206.5 L295.0,206.2 L301.2,205.2 L307.5,203.5 L309.0,201.9 L308.8,196.2" stroke="#000" stroke-width="0.95"/>
<path d="M285.0,253.8 L286.9,256.2 L287.5,258.8 L291.2,255.6 L297.5,255.6 L305.0,255.9" stroke="#000" stroke-width="0.95"/>
<path d="M287.5,258.8 L285.6,262.5 L285.0,267.5" stroke="#000" stroke-width="0.95"/>
<path d="M305.0,293.8 L308.1,291.5 L311.9,292.5 L316.2,289.4 L319.4,289.0 L321.2,291.2 L326.2,290.0 L330.6,288.1 L332.5,285.0 L331.9,281.2 L334.4,280.0 L337.5,282.5 L338.8,285.0" stroke="#000" stroke-width="0.95"/>
<path d="M335.0,291.9 L338.1,292.5 L338.8,295.0" stroke="#000" stroke-width="0.95"/>
<path d="M118.8,248.8 L121.2,251.2 L122.5,256.2 L121.2,261.2 L122.5,266.2 L125.0,270.0 L126.9,273.8 L130.0,277.5 L133.8,280.0 L135.0,280.6" stroke="#000" stroke-width="0.95"/>
<path d="M118.8,248.8 L119.4,253.8 L120.0,260.0 L119.8,266.2 L122.5,270.0 L125.0,275.0 L126.9,278.8 L128.1,282.5 L127.5,285.0" stroke="#000" stroke-width="0.95"/>
<path d="M127.5,285.0 L122.5,284.4 L118.1,283.1 L115.6,285.0 L115.0,288.8 L113.8,292.5 L113.8,295.0" stroke="#000" stroke-width="0.95"/>
<path d="M127.5,285.0 L130.0,288.1 L135.0,291.9" stroke="#000" stroke-width="0.95"/>
<path d="M126.2,228.8 L128.1,232.5 L131.2,234.0 L135.0,233.1" stroke="#000" stroke-width="0.95"/>
<path d="M135.0,232.5 L140.0,229.4 L145.0,226.9 L150.0,225.6 L155.0,225.2 L160.0,226.2 L163.1,229.4 L164.0,233.8 L165.0,235.6" stroke="#000" stroke-width="0.95"/>
<path d="M145.0,226.9 L147.5,230.6 L150.0,234.4 L151.9,232.5 L153.8,235.6 L155.0,232.5 L156.9,236.9 L158.1,240.6 L158.8,243.1" stroke="#000" stroke-width="0.95"/>
<path d="M175.0,220.0 L174.8,225.0 L172.5,230.0 L168.8,233.8 L165.0,235.6 L161.9,240.0 L160.6,243.1 L160.0,246.9 L161.2,251.2 L158.8,253.8 L156.2,257.5 L155.0,261.2 L156.9,263.8 L155.6,267.5 L158.8,270.0 L160.0,271.2" stroke="#000" stroke-width="0.95"/>
<path d="M160.6,243.1 L165.0,242.5 L169.4,244.4 L173.8,248.1 L176.2,251.9 L177.5,256.2 L176.9,260.0 L173.8,263.1 L170.0,265.6 L166.2,268.1 L161.9,270.0 L160.0,271.2" stroke="#000" stroke-width="0.95"/>
<path d="M160.0,271.2 L157.5,275.0 L153.8,278.8 L150.6,281.2 L149.4,285.0 L150.6,290.0 L151.2,295.0" stroke="#000" stroke-width="0.95"/>
<path d="M160.0,271.2 L163.8,271.9 L168.8,273.8 L170.6,275.0 L171.2,280.0 L171.9,286.2 L170.0,290.0 L166.2,292.5 L164.4,295.0" stroke="#000" stroke-width="0.95"/>
<path d="M170.6,275.0 L175.0,274.4 L178.8,275.0 L179.4,278.8 L183.8,281.2 L187.5,282.5 L190.0,285.0 L191.9,288.1 L191.2,292.5 L190.6,295.0" stroke="#000" stroke-width="0.95"/>
<path d="M191.9,288.1 L196.2,286.2 L200.0,284.4 L203.1,282.5 L206.9,280.6 L210.0,280.0" stroke="#000" stroke-width="0.95"/>
<path d="M178.8,275.0 L181.9,272.5 L183.1,270.0 L186.2,268.1 L189.4,266.2 L191.9,263.1 L193.1,260.0 L193.8,256.2 L193.8,253.1 L190.6,253.5 L188.8,251.2 L191.9,251.0 L194.8,251.5" stroke="#000" stroke-width="0.95"/>
<path d="M190.0,220.0 L188.8,223.8 L187.5,227.5 L186.0,231.2 L185.6,234.4 L187.5,235.0 L188.8,238.1 L190.0,241.2 L193.1,244.4 L196.2,246.9 L200.0,249.4 L205.0,250.6 L210.0,250.6" stroke="#000" stroke-width="0.95"/>
<path d="M135.0,279.8 L138.1,282.5 L142.5,281.5 L146.9,278.8 L150.6,281.0" stroke="#000" stroke-width="0.95"/>
<path d="M200.0,284.4 L202.5,288.1 L204.4,291.9 L210.0,293.1" stroke="#000" stroke-width="0.95"/>
<path d="M213.1,220.0 L215.6,223.8 L218.8,226.2 L217.5,230.0 L216.2,232.5 L218.1,236.2 L220.0,240.0 L221.9,243.1 L226.2,243.8 L231.2,242.5 L235.6,240.6 L239.4,237.5 L243.1,235.0 L245.0,238.8 L247.5,241.9 L251.2,240.6 L254.4,238.8 L255.6,236.2 L254.4,231.2 L253.1,225.0 L251.9,220.0" stroke="#000" stroke-width="0.95"/>
<path d="M221.9,243.1 L219.4,246.2 L216.9,250.0 L214.4,252.5 L210.0,253.1" stroke="#000" stroke-width="0.95"/>
<path d="M214.4,252.5 L215.6,258.8 L215.0,266.2 L213.8,272.5 L212.5,277.5 L210.0,278.8" stroke="#000" stroke-width="0.95"/>
<path d="M255.6,236.2 L257.5,240.6 L260.0,245.0 L261.9,248.1 L267.5,248.8 L272.5,251.2 L277.5,249.4 L282.5,250.6 L285.0,252.5" stroke="#000" stroke-width="0.95"/>
<path d="M261.9,248.1 L261.2,255.0 L260.6,262.5 L260.6,270.0 L261.2,277.5 L260.6,285.0 L259.4,290.0 L258.1,295.0" stroke="#000" stroke-width="0.95"/>
<path d="M272.5,251.2 L273.8,256.2 L270.0,257.5 L268.8,263.8 L267.5,271.2 L266.9,278.8 L265.6,286.2 L264.4,295.0" stroke="#000" stroke-width="0.95"/>
<path d="M253.1,246.9 L255.0,250.0 L256.9,253.8 L255.6,257.5 L253.1,258.1 L250.0,258.8 L248.1,261.9 L244.4,263.1 L241.9,265.0 L242.5,269.4 L240.0,273.1 L236.9,275.6 L235.0,278.1 L234.4,275.0" stroke="#000" stroke-width="0.95"/>
<path d="M253.1,258.1 L253.8,263.8 L255.0,270.0 L256.2,276.2 L256.9,281.2 L255.0,281.9 L258.1,282.5" stroke="#000" stroke-width="0.95"/>
<path d="M234.4,275.0 L230.0,273.1 L225.6,273.8 L225.0,278.8 L221.9,281.2 L220.0,282.5 L223.8,285.0 L224.4,288.8 L228.8,289.4 L233.8,288.8 L238.1,290.6 L239.4,295.0" stroke="#000" stroke-width="0.95"/>
<path d="M276.2,220.0 L275.6,225.0 L272.5,228.8 L266.2,230.0 L260.0,231.9 L256.9,233.8 L255.6,236.2" stroke="#000" stroke-width="0.95"/>
<path d="M227.5,219.4 L230.0,221.6 L232.5,223.4 L234.2,220.8 L235.0,218.8" stroke="#000" stroke-width="0.95"/>
<path d="M285.0,285.0 L281.9,288.8 L280.0,295.0" stroke="#000" stroke-width="0.95"/>
<path d="M106.2,295.0 L104.4,298.8 L103.1,303.8 L101.2,306.9 L104.4,308.8 L103.8,311.2 L96.2,311.5" stroke="#000" stroke-width="0.95"/>
<path d="M97.5,320.0 L100.0,319.4 L101.2,321.9 L100.6,326.2 L103.1,327.5 L106.2,325.6 L110.0,328.1 L113.8,330.6 L117.5,331.9 L121.2,333.1 L122.5,336.2 L121.2,340.0 L118.1,342.5 L118.1,347.5 L115.6,350.0 L116.2,353.8 L117.5,358.8 L116.2,362.5 L115.0,366.2 L115.6,370.0" stroke="#000" stroke-width="0.95"/>
<path d="M117.5,331.9 L118.8,327.5 L121.9,325.0 L122.5,320.0 L126.2,318.1 L130.0,317.5 L132.5,318.8 L135.0,319.4" stroke="#000" stroke-width="0.95"/>
<path d="M130.0,317.5 L128.1,313.8 L125.0,310.0 L121.2,306.2 L117.5,302.5 L115.6,300.0 L113.8,303.8 L110.0,306.2 L106.2,308.1 L104.4,308.8" stroke="#000" stroke-width="0.95"/>
<path d="M115.6,300.0 L112.5,296.2 L110.0,295.0" stroke="#000" stroke-width="0.95"/>
<path d="M118.1,347.5 L121.2,346.2 L122.5,350.0 L124.4,352.5 L126.2,348.8 L128.1,345.0 L131.2,342.5 L135.0,341.2" stroke="#000" stroke-width="0.95"/>
<path d="M124.4,352.5 L127.5,353.8 L129.4,357.5 L128.8,362.5 L125.0,363.8 L121.9,362.5 L118.8,360.0 L117.5,358.8" stroke="#000" stroke-width="0.95"/>
<path d="M129.4,357.5 L132.5,356.2 L133.8,352.5 L135.0,347.5" stroke="#000" stroke-width="0.95"/>
<path d="M76.2,345.0 L75.6,343.8 L76.2,338.8 L76.9,332.5 L78.8,330.6 L80.0,333.8 L85.0,333.1 L90.0,332.5 L90.6,328.8 L91.9,331.9 L93.1,328.8 L94.4,325.0 L97.5,324.4 L98.8,321.9 L100.2,324.4" stroke="#000" stroke-width="0.95"/>
<path d="M137.5,295.0 L140.6,300.0 L144.4,303.8 L147.5,307.5 L150.0,309.4 L151.9,306.2 L153.8,302.5 L157.5,300.0 L161.2,298.8 L160.0,296.2 L156.9,296.9 L155.0,295.0" stroke="#000" stroke-width="0.95"/>
<path d="M150.0,309.4 L146.9,313.8 L143.8,317.5 L140.0,318.8 L135.0,320.0" stroke="#000" stroke-width="0.95"/>
<path d="M150.0,309.4 L152.5,312.5 L155.6,317.5 L160.0,321.9 L165.0,324.4 L168.8,321.9 L172.5,319.4 L175.6,317.5 L176.2,313.8 L175.0,308.8 L175.6,305.0 L180.6,306.9 L185.0,305.6 L190.0,302.5 L192.5,298.8 L191.2,295.0" stroke="#000" stroke-width="0.95"/>
<path d="M165.0,324.4 L166.9,328.8 L168.8,333.1 L165.6,335.6 L161.9,337.5 L158.1,335.0 L155.0,331.9 L150.0,332.5 L145.0,333.8 L141.2,336.2 L139.4,338.1 L141.2,340.6 L138.8,342.5 L135.0,345.0" stroke="#000" stroke-width="0.95"/>
<path d="M141.2,340.6 L144.4,343.8 L146.9,347.5 L148.8,350.6 L153.8,353.8 L158.8,356.2 L164.4,358.8 L168.8,360.6 L168.1,365.0 L167.5,370.0" stroke="#000" stroke-width="0.95"/>
<path d="M175.6,317.5 L178.1,320.6 L181.9,324.4 L186.2,328.1 L188.8,331.9 L190.0,336.2 L188.8,338.8 L185.0,339.4 L186.2,345.0 L185.6,351.2 L184.4,356.2 L183.1,357.5" stroke="#000" stroke-width="0.95"/>
<path d="M186.2,328.1 L188.8,325.0 L190.0,321.2 L193.1,318.8 L197.5,316.9 L202.5,316.2 L204.4,314.4 L207.5,313.8 L210.0,312.5" stroke="#000" stroke-width="0.95"/>
<path d="M186.2,328.1 L191.2,328.8 L197.5,328.1 L202.5,326.9 L207.5,327.5 L210.0,328.1" stroke="#000" stroke-width="0.95"/>
<path d="M188.8,338.8 L191.2,342.5 L195.0,345.0 L197.5,343.8 L200.0,342.5 L202.5,341.2 L205.0,338.8 L207.5,336.2 L210.0,335.6" stroke="#000" stroke-width="0.95"/>
<path d="M195.0,345.0 L198.8,347.5 L202.5,350.6 L204.4,353.1 L202.5,356.2 L199.4,355.0 L196.2,356.2 L193.1,358.8 L188.8,360.0 L185.0,358.8 L183.1,357.5" stroke="#000" stroke-width="0.95"/>
<path d="M183.1,357.5 L178.8,358.1 L175.0,360.0 L171.9,357.5 L169.4,358.8 L168.8,360.6" stroke="#000" stroke-width="0.95"/>
<path d="M183.1,357.5 L185.6,361.2 L186.9,365.0 L186.2,370.0" stroke="#000" stroke-width="0.95"/>
<path d="M204.4,353.1 L207.5,351.2 L210.0,348.8" stroke="#000" stroke-width="0.95"/>
<path d="M202.5,356.2 L205.0,358.8 L210.0,357.5" stroke="#000" stroke-width="0.95"/>
<path d="M203.8,362.5 L205.0,367.5 L204.4,370.0" stroke="#000" stroke-width="0.95"/>
<path d="M135.0,360.0 L137.5,363.1 L140.6,365.0 L144.4,364.4 L146.2,367.5 L147.5,370.0" stroke="#000" stroke-width="0.95"/>
<path d="M215.6,295.0 L217.5,298.8 L219.4,303.8 L221.2,308.1 L222.5,311.2 L225.0,312.5 L228.8,311.2 L232.5,309.4 L235.6,307.5 L237.5,306.9 L236.9,311.2 L236.2,315.6 L237.5,318.1 L241.2,316.9 L244.4,317.5 L247.5,319.4 L251.2,318.8 L255.0,317.5 L258.1,315.6" stroke="#000" stroke-width="0.95"/>
<path d="M258.1,315.6 L256.2,311.2 L253.8,308.8 L251.9,311.2 L250.0,307.5 L251.2,302.5 L253.1,298.8 L254.4,295.0" stroke="#000" stroke-width="0.95"/>
<path d="M258.1,315.6 L262.5,311.2 L267.5,306.9 L272.5,302.5 L277.5,298.8 L280.6,297.5 L282.5,300.0 L280.0,301.2 L278.8,298.8" stroke="#000" stroke-width="0.95"/>
<path d="M258.1,315.6 L257.5,319.4 L260.0,320.6 L263.8,321.9 L265.6,325.6 L266.2,331.2 L268.1,336.2 L271.2,340.0 L275.0,341.9 L280.0,340.0 L285.0,338.1" stroke="#000" stroke-width="0.95"/>
<path d="M275.0,341.9 L272.5,345.0 L268.8,348.1 L265.0,351.2 L261.2,353.1 L256.2,353.8 L251.2,353.1 L246.9,354.4 L243.8,356.2" stroke="#000" stroke-width="0.95"/>
<path d="M258.1,315.6 L252.5,319.4 L247.5,321.9 L243.8,325.0 L239.4,328.1 L236.2,331.9 L233.8,330.0 L230.6,330.6 L227.5,335.0 L224.4,339.4 L221.2,344.4 L224.4,346.9 L225.6,351.2 L226.2,355.6 L230.0,356.9 L235.0,357.5 L239.4,360.0 L240.6,361.2 L243.8,356.2" stroke="#000" stroke-width="0.95"/>
<path d="M243.8,356.2 L245.6,361.2 L246.2,366.2 L250.0,370.0" stroke="#000" stroke-width="0.95"/>
<path d="M246.2,366.2 L245.0,370.0" stroke="#000" stroke-width="0.95"/>
<path d="M222.5,311.2 L223.1,315.0 L222.5,320.0 L221.9,325.0 L220.6,330.0 L217.5,336.2 L214.4,341.2 L212.5,345.0 L210.0,348.8" stroke="#000" stroke-width="0.95"/>
<path d="M210.0,331.2 L212.5,330.0 L215.6,328.1 L219.4,326.2 L217.5,331.2 L218.8,333.8" stroke="#000" stroke-width="0.95"/>
<path d="M220.6,309.4 L223.8,308.1 L225.6,310.6 L223.8,313.1 L221.2,312.5 L220.6,309.4" stroke="#000" stroke-width="0.95"/>
<path d="M210.0,313.1 L215.0,313.8 L219.4,311.9 L221.2,312.5" stroke="#000" stroke-width="0.95"/>
<path d="M210.0,353.8 L213.1,350.6 L217.5,348.8 L221.2,347.5 L221.2,344.4" stroke="#000" stroke-width="0.95"/>
<path d="M210.0,362.5 L213.8,363.1 L217.5,362.5 L220.0,366.2 L221.2,370.0" stroke="#000" stroke-width="0.95"/>
<path d="M290.0,297.5 L290.6,302.5 L291.9,307.5 L290.0,312.5 L288.8,317.5 L291.2,321.2 L292.5,326.2 L295.0,331.2 L298.1,335.0 L298.8,338.8 L300.6,343.8 L303.8,347.5 L307.5,351.2 L310.0,354.4 L313.8,356.9 L317.8,359.4 L322.5,361.9 L328.8,363.8 L335.0,364.4" stroke="#000" stroke-width="0.95"/>
<path d="M285.0,338.8 L288.8,336.2 L293.8,334.4 L298.1,335.0" stroke="#000" stroke-width="0.95"/>
<path d="M285.0,300.0 L290.0,297.5 L297.5,296.9 L304.4,296.9 L305.0,295.0" stroke="#000" stroke-width="0.95"/>
<path d="M304.4,296.9 L315.0,296.2 L316.2,295.0" stroke="#000" stroke-width="0.95"/>
<path d="M314.4,301.0 L318.1,300.2 L318.8,304.4 L315.0,305.0 L313.5,303.8 L314.4,301.0" stroke="#000" stroke-width="0.95"/>
<path d="M333.1,295.0 L330.0,298.1 L326.9,300.6 L328.1,306.2 L331.2,311.2 L334.4,315.6 L336.2,319.4 L335.6,324.4 L332.5,328.8 L330.0,333.8" stroke="#000" stroke-width="0.95"/>
<path d="M336.2,319.4 L340.0,320.0 L343.8,318.1 L346.2,319.4 L347.5,315.0 L351.2,311.2 L355.0,308.1 L358.8,311.2 L360.0,312.5" stroke="#000" stroke-width="0.95"/>
<path d="M318.1,320.6 L315.0,323.8 L312.5,328.8 L310.0,335.0 L309.4,341.2 L310.6,346.2 L308.8,351.2 L307.5,351.2" stroke="#000" stroke-width="0.95"/>
<path d="M318.1,320.6 L321.9,323.8 L325.0,326.2 L327.5,331.2 L330.0,333.8 L331.9,338.8 L333.1,343.8 L337.5,346.2 L343.1,346.9 L341.2,351.2 L338.8,356.2 L336.2,361.2 L335.0,364.4" stroke="#000" stroke-width="0.95"/>
<path d="M335.0,364.4 L340.0,362.5 L345.0,359.4 L350.0,356.2 L355.0,353.1 L360.0,350.0" stroke="#000" stroke-width="0.95"/>
<path d="M317.8,359.4 L316.2,365.0 L315.0,370.0" stroke="#000" stroke-width="0.95"/>
<path d="M348.8,357.5 L349.4,363.8 L350.0,370.0" stroke="#000" stroke-width="0.95"/>
<path d="M360.0,304.4 L363.8,307.5 L365.6,309.4 L363.8,311.2 L360.0,311.9" stroke="#000" stroke-width="0.95"/>
<path d="M411.2,326.9 L410.0,332.5 L406.2,338.1 L401.2,343.1 L396.2,346.9 L391.2,349.4 L386.2,349.0 L381.9,348.5 L376.2,346.9 L370.0,346.2 L365.0,347.5 L360.0,350.0" stroke="#000" stroke-width="0.95"/>
<path d="M381.9,348.5 L383.1,353.8 L385.6,360.0 L389.4,365.6 L392.5,370.0" stroke="#000" stroke-width="0.95"/>
<path d="M117.5,370.0 L119.4,371.9 L122.5,372.5 L123.8,376.2 L123.1,380.0 L123.8,383.1 L121.9,385.6 L118.8,386.2" stroke="#000" stroke-width="0.95"/>
<path d="M148.1,370.0 L149.4,375.0 L150.0,379.4 L146.9,381.9 L145.6,386.2 L145.0,391.2 L144.4,396.9 L143.8,402.5 L140.6,404.4 L139.4,407.5 L139.0,410.2" stroke="#000" stroke-width="0.95"/>
<path d="M150.0,379.4 L152.5,382.5 L155.6,380.6 L158.8,377.5 L162.5,375.0 L165.0,371.9 L166.2,370.0" stroke="#000" stroke-width="0.95"/>
<path d="M155.6,380.6 L157.5,384.4 L159.4,386.9 L158.1,390.0 L161.2,388.1 L163.8,385.0 L165.0,388.8 L166.2,393.1 L168.8,395.6 L171.9,396.9 L173.8,400.0 L173.1,404.4 L175.0,405.0" stroke="#000" stroke-width="0.95"/>
<path d="M158.8,377.5 L160.0,373.8 L159.4,370.0" stroke="#000" stroke-width="0.95"/>
<path d="M165.0,371.9 L170.0,373.8 L175.0,376.2" stroke="#000" stroke-width="0.95"/>
<path d="M175.0,411.2 L172.5,416.2 L170.0,421.2 L168.8,426.2 L165.6,430.0 L164.4,433.8 L165.0,436.9" stroke="#000" stroke-width="0.95"/>
<path d="M175.0,377.5 L180.0,375.6 L186.2,376.2 L192.5,377.5 L197.5,378.8 L201.2,376.9 L203.1,373.1 L204.4,370.0" stroke="#000" stroke-width="0.95"/>
<path d="M197.5,378.8 L196.9,383.8 L195.6,388.8 L196.2,393.1 L199.4,395.0 L201.9,394.4 L204.4,396.2 L206.2,399.4 L203.1,401.9 L200.6,403.8 L197.5,403.8 L193.8,405.0 L190.0,403.8 L187.5,401.2 L182.5,401.9 L177.5,402.5 L175.0,403.8" stroke="#000" stroke-width="0.95"/>
<path d="M197.5,378.8 L202.5,380.6 L206.9,382.5 L210.6,384.4 L208.8,385.6 L206.9,385.0 L206.2,387.5 L204.4,388.8 L205.6,390.6 L208.1,393.1 L207.5,395.6 L210.0,396.9 L212.5,396.2 L211.2,393.8 L210.6,391.2 L212.5,388.8 L212.5,385.0 L210.6,384.4" stroke="#000" stroke-width="0.95"/>
<path d="M210.6,384.4 L212.5,382.5 L216.2,381.5 L220.6,382.2 L224.4,384.4 L227.5,387.5 L230.0,389.4 L232.5,388.1 L233.8,385.6 L236.2,385.0 L237.5,388.8 L239.4,393.1 L241.2,397.5 L243.8,400.6 L246.9,403.1 L248.8,406.2 L250.0,406.9" stroke="#000" stroke-width="0.95"/>
<path d="M233.8,385.6 L235.0,381.9 L237.5,378.8 L241.2,376.2 L245.6,373.1 L250.0,370.6" stroke="#000" stroke-width="0.95"/>
<path d="M233.8,385.6 L231.2,381.2 L230.0,376.9 L227.5,374.4 L223.8,373.1 L220.6,371.9 L219.4,370.0" stroke="#000" stroke-width="0.95"/>
<path d="M210.0,396.9 L211.2,400.0 L214.4,403.1 L218.1,404.4 L220.6,407.5 L221.9,411.9 L224.4,415.6 L227.5,418.1 L230.6,420.0" stroke="#000" stroke-width="0.95"/>
<path d="M175.0,411.2 L177.5,409.4 L180.6,407.5 L182.5,401.9" stroke="#000" stroke-width="0.95"/>
<path d="M177.5,402.5 L179.4,406.2 L180.6,407.5 L185.0,405.6 L190.0,403.8" stroke="#000" stroke-width="0.95"/>
<path d="M187.5,401.2 L190.0,403.8 L191.9,407.5 L193.8,411.2 L193.1,413.8 L198.1,415.0 L200.0,407.5 L200.6,403.8" stroke="#000" stroke-width="0.95"/>
<path d="M175.0,413.1 L180.0,413.8 L184.4,415.6 L188.8,413.1 L193.1,413.8" stroke="#000" stroke-width="0.95"/>
<path d="M286.9,374.4 L283.1,378.1 L280.0,383.1 L280.0,390.0 L280.6,396.9 L281.2,402.5" stroke="#000" stroke-width="0.95"/>
<path d="M286.9,374.4 L291.2,376.2 L295.6,379.4 L299.4,382.5 L301.2,383.8 L303.8,380.6 L306.2,378.1 L308.8,378.8 L311.2,377.5 L312.5,373.8 L313.8,370.0" stroke="#000" stroke-width="0.95"/>
<path d="M311.2,377.5 L315.0,380.6 L318.8,383.1 L322.5,385.0 L325.0,385.6" stroke="#000" stroke-width="0.95"/>
<path d="M281.2,402.5 L276.9,405.0 L273.1,408.1 L270.0,410.6 L265.0,411.2 L260.0,411.2 L255.6,410.6 L252.5,408.1 L250.0,407.5" stroke="#000" stroke-width="0.95"/>
<path d="M255.6,410.6 L253.8,415.6 L251.9,420.0 L250.0,425.0" stroke="#000" stroke-width="0.95"/>
<path d="M281.2,402.5 L285.6,404.4 L288.1,407.5 L290.6,411.9 L292.5,416.2 L294.4,419.4 L297.5,423.1 L300.0,427.5 L303.1,432.5 L306.2,437.5 L308.8,441.2 L312.5,443.1 L313.8,445.0" stroke="#000" stroke-width="0.95"/>
<path d="M351.2,370.0 L355.0,375.0 L358.8,380.6 L361.9,385.6 L363.8,390.6 L365.0,393.1 L370.0,395.6 L377.5,397.5 L387.5,399.4 L395.0,400.6 L400.0,401.2" stroke="#000" stroke-width="0.95"/>
<path d="M392.5,370.0 L395.6,375.0 L397.5,380.0 L398.8,385.0 L400.0,386.9" stroke="#000" stroke-width="0.95"/>
<path d="M325.0,385.6 L329.4,386.9 L333.8,388.8 L338.8,391.9 L335.0,395.6 L331.9,400.0 L336.2,402.5 L342.5,403.8 L348.8,403.5 L355.0,401.9 L359.4,399.4 L365.0,403.1 L371.2,406.2 L377.5,410.0 L383.8,413.8 L388.8,418.1 L393.1,423.8" stroke="#000" stroke-width="0.95"/>
<path d="M385.0,358.8 L388.1,364.4 L392.5,370.6 L396.2,375.6 L398.1,380.6 L398.8,386.2 L403.8,389.4 L410.0,391.9 L416.2,394.4 L420.0,396.2" stroke="#000" stroke-width="0.95"/>
<path d="M385.0,399.4 L392.5,400.0 L400.0,400.6 L407.5,401.5 L411.9,404.4" stroke="#000" stroke-width="0.95"/>
<path d="M385.0,413.8 L388.8,417.5 L392.5,421.9 L393.8,423.1" stroke="#000" stroke-width="0.95"/>
<path d="M230.6,420.0 L233.8,424.4 L238.8,426.9 L243.1,429.4 L248.1,431.0" stroke="#000" stroke-width="0.95"/>
<path d="M250.0,427.5 L248.1,431.0 L246.2,436.2 L243.8,442.5 L242.5,448.8 L240.0,453.8 L236.9,458.1 L233.8,461.2 L231.9,462.5" stroke="#000" stroke-width="0.95"/>
<path d="M294.4,420.0 L298.1,425.0 L301.2,430.0 L305.0,435.0 L308.1,440.0 L311.9,442.5 L313.8,444.4" stroke="#000" stroke-width="0.95"/>
</g>
<rect x="58.5" y="140.5" width="423" height="331" fill="none" stroke="#555" stroke-width="1"/>
<g id="logo">
<rect x="419" y="139" width="59" height="45.8" fill="#fff"/>
<path d="M422.09,174.23 A26.00,26.00 0 1 1 472.31,174.23" fill="none" stroke="#3b8ee6" stroke-width="1"/>
<path d="M429.07,169.09 A18.20,18.20 0 1 1 465.33,169.09" fill="none" stroke="#bcd9f5" stroke-width="0.6"/>
<path d="M426.11,170.46 A21.30,21.30 0 1 1 468.29,170.46" fill="none" stroke="#2b3a9a" stroke-width="2.7" stroke-dasharray="1.9 0.9 2.4 0.8 1.6 1 2.2 0.9"/>
<circle cx="440.9" cy="153.2" r="2.7" fill="#f7931e"/>
<circle cx="440.9" cy="153.4" r="1.5" fill="#ffd23a"/>
<path d="M437.2,156.8 C436.6,154.6 439.5,153.6 441.6,154.4 C442.8,152.2 447,151.2 449.6,152.3 C452.6,151.2 456.6,152.2 457.4,153.9 C459.8,154 461,155.8 459.8,157.3 C457,158.6 452,158.3 448,158.5 C444,158.7 439.5,158.6 437.2,156.8 Z" fill="#1f2d5c"/>
<path d="M442,154.6 C444,153.2 448,153 450,153.8 C453,153 456,153.6 457,155" fill="none" stroke="#3f62b8" stroke-width="0.7"/>
<g stroke="#7d8aa8" stroke-width="0.45" stroke-linecap="round"><path d="M441,159.6v0.9M443.2,159.8v1M445.4,159.6v0.9M447.6,159.8v1M449.8,159.6v0.9M452,159.8v1M454.2,159.6v0.9M456.4,159.8v0.9M442.2,161.8v0.9M444.6,162v0.9M447,161.8v0.9M449.4,162v0.9M451.8,161.8v0.9M445.8,163.6v0.8M448.2,163.6v0.8M450.4,163.4v0.8"/></g>
<path d="M424.3,173.2 C427,171 430,169.6 433,170.2 C436,170.8 438,170 440,168.8 C442,167.6 443.6,166.2 444.8,166 C446.5,166.6 448.5,168.2 451,169.4 C454,170.6 457,170.8 460,171.4 C463,172 466,172.8 468,174 L468,175 L424.3,175 Z" fill="#3e9e2e"/>
<path d="M430,171.6 C434,170.4 438,171.2 441,169.6 C443,168.4 444,167 444.8,166.4 C446,167.6 446.4,169.4 445,170.8 C442,172.8 436,173.2 430,173 Z" fill="#7fd43a"/>
<path d="M455,171.6 C459,172 464,173 467.5,174.4 L467.5,175 L452,175 C453,173.6 454,172.4 455,171.6 Z" fill="#1f6e2a"/>
<path d="M453.6,171 C451,171.2 449.4,172 448.6,172.8 C447.8,173.6 447.6,174.4 448.4,175 L453.4,175 C452,174.4 451.6,173.6 452.2,172.8 C452.8,172 453.4,171.6 453.6,171 Z" fill="#38c6e6"/>
<text x="448" y="179" text-anchor="middle" font-size="2.75" font-weight="bold" fill="#27348b" style="fill:#27348b" textLength="42.5" lengthAdjust="spacingAndGlyphs">Ethiopian Meteorology Institute</text>
<path d="M427.2,180.9 H443.4 M452.6,180.9 H467.8" stroke="#3b6fd0" stroke-width="0.6" fill="none"/>
<path d="M429.5,181.7 H442.5 M453.5,181.7 H465.5" stroke="#9bb8ea" stroke-width="0.4" fill="none"/>
<ellipse cx="448" cy="181" rx="3" ry="1.1" fill="#fff" stroke="#555" stroke-width="0.4"/>
<path d="M446.2,181 H449.8 M447.2,180.4 V181.6 M448.8,180.4 V181.6" stroke="#666" stroke-width="0.3"/>
</g>
<path d="M478,140.5H481.5M478,172H481.5" stroke="#555" stroke-width="1"/>
<line x1="48.5" y1="170.3" x2="58.5" y2="170.3" stroke="#555" stroke-width="1"/>
<text class="tl" x="40.6" y="174.9" text-anchor="end">14°N</text>
<line x1="48.5" y1="226.1" x2="58.5" y2="226.1" stroke="#555" stroke-width="1"/>
<text class="tl" x="40.6" y="230.7" text-anchor="end">12°N</text>
<line x1="48.5" y1="281.9" x2="58.5" y2="281.9" stroke="#555" stroke-width="1"/>
<text class="tl" x="40.6" y="286.5" text-anchor="end">10°N</text>
<line x1="48.5" y1="337.6" x2="58.5" y2="337.6" stroke="#555" stroke-width="1"/>
<text class="tl" x="40.6" y="342.2" text-anchor="end">8°N</text>
<line x1="48.5" y1="393.4" x2="58.5" y2="393.4" stroke="#555" stroke-width="1"/>
<text class="tl" x="40.6" y="398.0" text-anchor="end">6°N</text>
<line x1="48.5" y1="449.2" x2="58.5" y2="449.2" stroke="#555" stroke-width="1"/>
<text class="tl" x="40.6" y="453.8" text-anchor="end">4°N</text>
<line x1="91.3" y1="471.5" x2="91.3" y2="481" stroke="#555" stroke-width="1"/>
<text class="tl" x="91.3" y="500" text-anchor="middle">34°E</text>
<line x1="146.4" y1="471.5" x2="146.4" y2="481" stroke="#555" stroke-width="1"/>
<text class="tl" x="146.4" y="500" text-anchor="middle">36°E</text>
<line x1="201.5" y1="471.5" x2="201.5" y2="481" stroke="#555" stroke-width="1"/>
<text class="tl" x="201.5" y="500" text-anchor="middle">38°E</text>
<line x1="256.6" y1="471.5" x2="256.6" y2="481" stroke="#555" stroke-width="1"/>
<text class="tl" x="256.6" y="500" text-anchor="middle">40°E</text>
<line x1="311.7" y1="471.5" x2="311.7" y2="481" stroke="#555" stroke-width="1"/>
<text class="tl" x="311.7" y="500" text-anchor="middle">42°E</text>
<line x1="366.8" y1="471.5" x2="366.8" y2="481" stroke="#555" stroke-width="1"/>
<text class="tl" x="366.8" y="500" text-anchor="middle">44°E</text>
<line x1="421.9" y1="471.5" x2="421.9" y2="481" stroke="#555" stroke-width="1"/>
<text class="tl" x="421.9" y="500" text-anchor="middle">46°E</text>
<line x1="477.0" y1="471.5" x2="477.0" y2="481" stroke="#555" stroke-width="1"/>
<text class="tl" x="477.0" y="500" text-anchor="middle">48°E</text>
<text x="271.1" y="113.8" text-anchor="middle" font-size="18.2" font-weight="bold" textLength="428.2" lengthAdjust="spacingAndGlyphs">Daily maximum temperature (C) for 22-23 Apr 2025</text>
<rect x="523.5" y="144.50" width="25" height="26.92" fill="#FFB3B3" stroke="#555" stroke-opacity="0.6" stroke-width="0.6"/>
<rect x="523.5" y="171.42" width="25" height="26.92" fill="#CC0000" stroke="#555" stroke-opacity="0.6" stroke-width="0.6"/>
<rect x="523.5" y="198.34" width="25" height="26.92" fill="#FF1100" stroke="#555" stroke-opacity="0.6" stroke-width="0.6"/>
<rect x="523.5" y="225.26" width="25" height="26.92" fill="#FF8000" stroke="#555" stroke-opacity="0.6" stroke-width="0.6"/>
<rect x="523.5" y="252.18" width="25" height="26.92" fill="#FFC31A" stroke="#555" stroke-opacity="0.6" stroke-width="0.6"/>
<rect x="523.5" y="279.10" width="25" height="26.92" fill="#FFF07A" stroke="#555" stroke-opacity="0.6" stroke-width="0.6"/>
<rect x="523.5" y="306.02" width="25" height="26.92" fill="#ABDAF1" stroke="#555" stroke-opacity="0.6" stroke-width="0.6"/>
<rect x="523.5" y="332.94" width="25" height="26.92" fill="#3ABEF5" stroke="#555" stroke-opacity="0.6" stroke-width="0.6"/>
<rect x="523.5" y="359.86" width="25" height="26.92" fill="#1E9BFA" stroke="#555" stroke-opacity="0.6" stroke-width="0.6"/>
<rect x="523.5" y="386.78" width="25" height="26.92" fill="#3C6CE0" stroke="#555" stroke-opacity="0.6" stroke-width="0.6"/>
<rect x="523.5" y="413.70" width="25" height="26.92" fill="#0000FF" stroke="#555" stroke-opacity="0.6" stroke-width="0.6"/>
<rect x="523.5" y="440.62" width="25" height="26.92" fill="#8022EE" stroke="#555" stroke-opacity="0.6" stroke-width="0.6"/>
<text class="cb" x="556.6" y="175.4">41</text>
<text class="cb" x="556.6" y="202.3">38</text>
<text class="cb" x="556.6" y="229.3">35</text>
<text class="cb" x="556.6" y="256.2">32</text>
<text class="cb" x="556.6" y="283.1">29</text>
<text class="cb" x="556.6" y="310.0">26</text>
<text class="cb" x="556.6" y="336.9">23</text>
<text class="cb" x="556.6" y="363.9">20</text>
<text class="cb" x="556.6" y="390.8">17</text>
<text class="cb" x="556.6" y="417.7">14</text>
<text class="cb" x="556.6" y="444.6">11</text>
</svg></body></html>
